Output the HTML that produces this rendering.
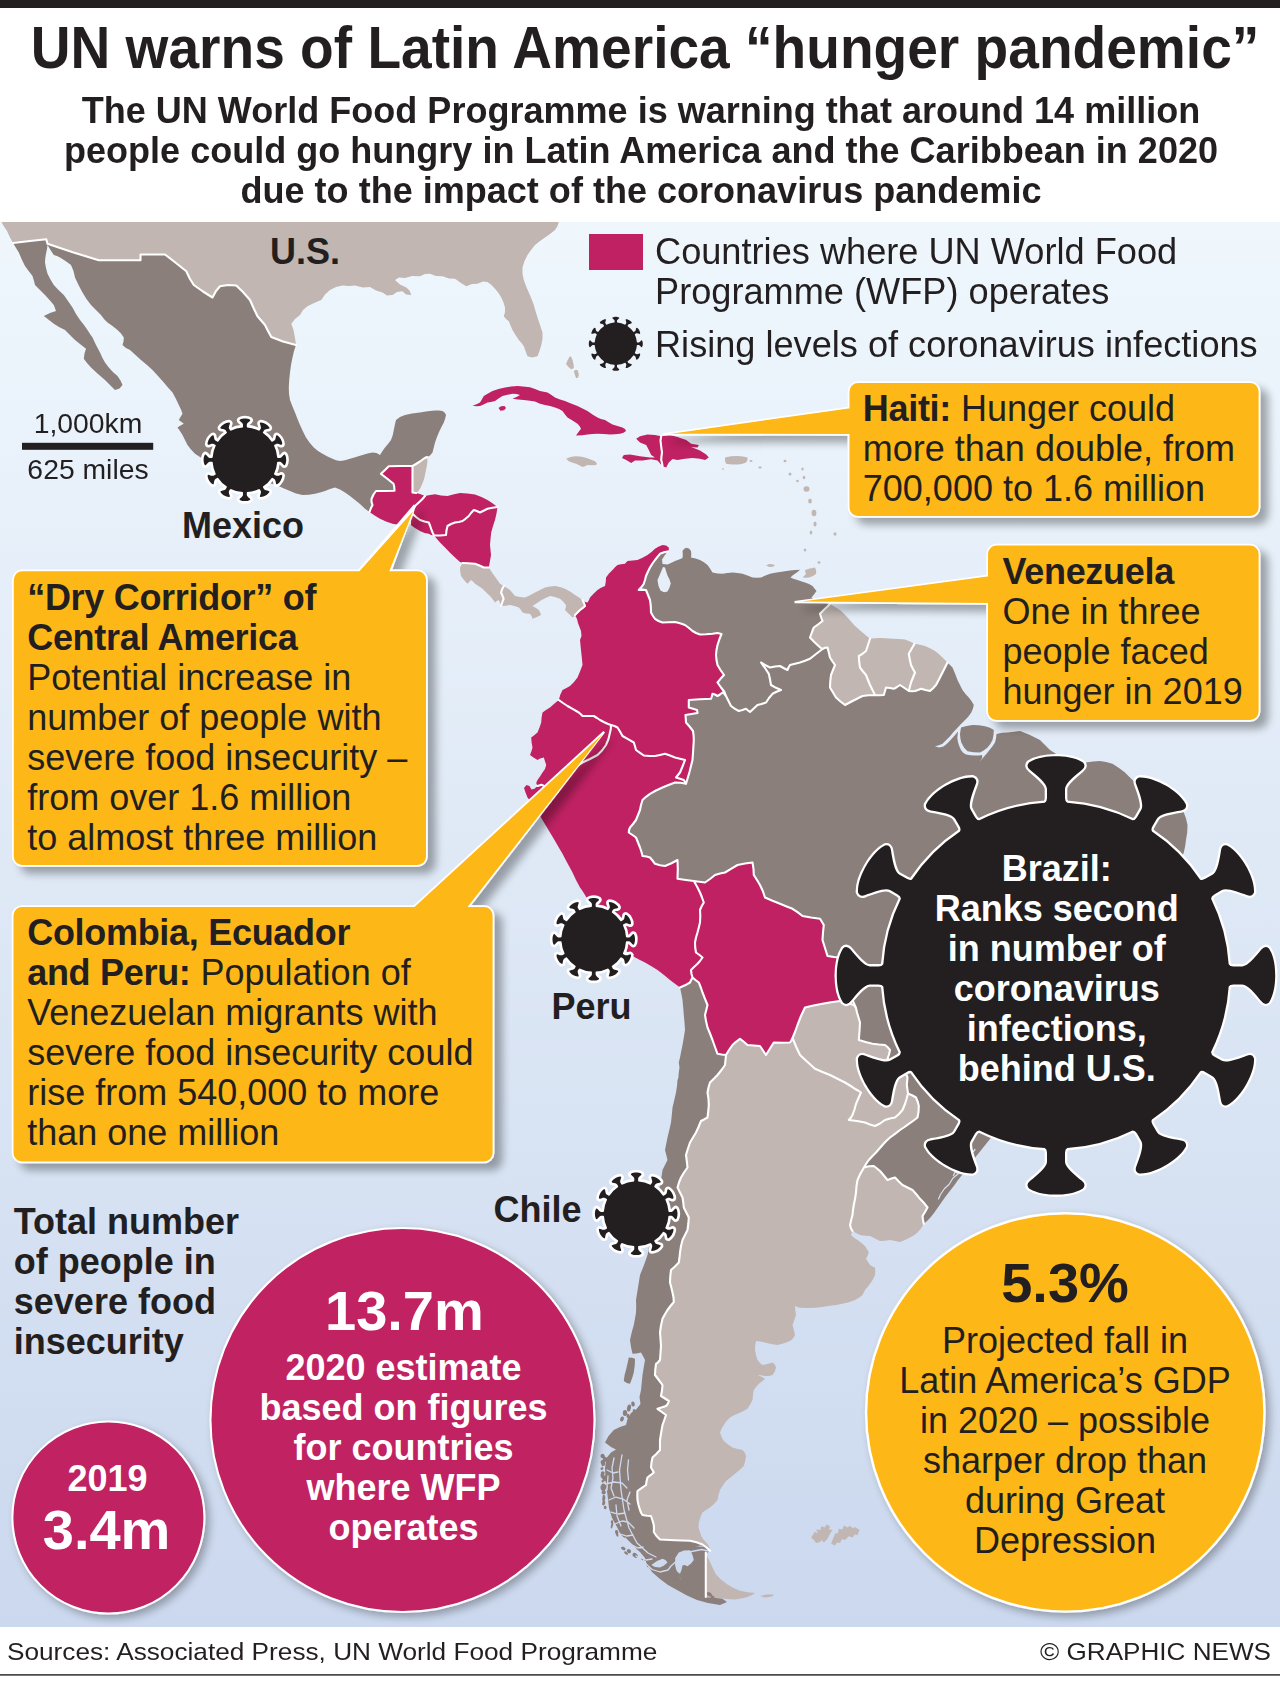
<!DOCTYPE html>
<html><head><meta charset="utf-8"><title>UN warns of Latin America hunger pandemic</title>
<style>
html,body{margin:0;padding:0;background:#fff;}
body{width:1280px;height:1682px;position:relative;overflow:hidden;font-family:"Liberation Sans",sans-serif;color:#231f20;}
b{font-weight:bold;letter-spacing:-0.3px}
</style></head><body>
<svg width="1280" height="1682" viewBox="0 0 1280 1682" style="position:absolute;left:0;top:0"><defs>
<linearGradient id="sea" x1="0" y1="0" x2="0" y2="1"><stop offset="0" stop-color="#eff7fd"/><stop offset="0.45" stop-color="#dfe9f6"/><stop offset="1" stop-color="#cbd8ee"/></linearGradient>
<filter id="sh" x="-10%" y="-10%" width="130%" height="130%"><feGaussianBlur in="SourceAlpha" stdDeviation="4"/><feOffset dx="7.5" dy="6.5"/><feComponentTransfer><feFuncA type="linear" slope="0.33"/></feComponentTransfer><feMerge><feMergeNode/><feMergeNode in="SourceGraphic"/></feMerge></filter>
<filter id="sh2" x="-10%" y="-10%" width="125%" height="125%"><feGaussianBlur in="SourceAlpha" stdDeviation="4"/><feOffset dx="4" dy="4"/><feComponentTransfer><feFuncA type="linear" slope="0.3"/></feComponentTransfer><feMerge><feMergeNode/><feMergeNode in="SourceGraphic"/></feMerge></filter>
<clipPath id="mapclip"><rect x="0" y="222" width="1280" height="1405"/></clipPath>
</defs><rect x="0" y="222" width="1280" height="1405" fill="url(#sea)"/><g clip-path="url(#mapclip)"><polygon points="1.5,222.0 3.0,225.0 7.0,231.0 10.0,237.5 13.0,243.0 30.0,241.0 46.3,239.3 47.5,243.8 72.0,252.0 98.8,260.3 140.5,260.3 140.5,254.5 165.0,254.5 176.0,263.0 186.3,271.3 190.0,279.0 193.8,285.0 203.0,291.5 212.5,297.5 216.0,291.0 220.0,286.3 228.0,285.0 236.3,285.5 243.0,292.0 250.0,300.0 254.0,309.0 257.5,316.3 265.0,325.0 268.0,331.0 271.3,337.0 283.0,341.5 296.0,345.0 295.0,338.0 293.5,330.0 291.3,323.8 295.0,319.0 300.0,315.0 303.0,310.0 307.5,306.3 314.0,303.0 321.3,300.0 325.0,294.5 330.0,290.0 336.0,287.0 342.5,285.5 349.0,286.0 355.0,285.5 363.0,287.5 370.0,287.0 376.0,290.5 382.5,292.5 387.0,295.5 392.5,295.0 397.0,292.0 402.5,291.3 406.0,294.5 411.3,295.0 409.5,290.5 406.3,287.5 400.0,284.5 395.0,280.0 399.0,277.5 405.0,278.0 412.0,276.0 420.0,276.3 425.0,274.0 430.0,273.8 436.0,276.0 442.5,276.3 449.0,278.5 455.0,278.8 461.0,283.0 466.3,286.3 472.0,284.0 477.5,283.8 483.0,281.5 487.5,282.0 491.5,285.0 495.0,288.8 498.5,293.0 501.3,297.5 503.5,302.5 505.0,307.5 505.0,312.0 503.8,316.3 506.0,319.0 508.8,321.3 510.5,325.5 512.5,330.0 515.5,335.0 518.8,340.0 521.5,343.0 523.8,346.3 525.5,351.0 527.5,356.3 532.0,357.5 537.5,356.3 539.5,351.0 541.3,345.0 542.5,339.0 542.5,332.5 540.0,325.0 537.5,317.5 535.5,311.0 533.8,305.0 531.5,299.0 528.8,292.5 526.0,286.0 523.8,280.0 522.5,274.0 522.5,267.5 524.5,261.0 527.5,255.0 531.0,250.0 535.0,245.0 540.0,241.0 545.0,237.5 550.0,234.0 555.0,230.0 557.5,226.0 558.8,222.0" fill="#c1b6b1"/>
<polygon points="13.0,243.0 30.0,241.0 46.3,239.3 47.5,243.8 72.0,252.0 98.8,260.3 140.5,260.3 140.5,254.5 165.0,254.5 176.0,263.0 186.3,271.3 190.0,279.0 193.8,285.0 203.0,291.5 212.5,297.5 216.0,291.0 220.0,286.3 228.0,285.0 236.3,285.5 243.0,292.0 250.0,300.0 254.0,309.0 257.5,316.3 265.0,325.0 268.0,331.0 271.3,337.0 283.0,341.5 296.0,345.0 294.0,351.0 292.5,357.5 291.0,365.0 290.0,372.5 289.2,380.0 288.8,387.5 289.0,394.0 290.0,400.0 292.5,406.5 295.0,412.5 297.5,419.0 300.0,425.0 303.0,431.5 306.0,437.5 309.5,442.5 313.8,447.5 318.0,451.0 322.5,453.8 327.5,456.5 332.5,458.8 336.0,460.2 340.0,461.0 345.0,460.2 350.0,458.8 356.0,457.0 362.5,455.0 367.5,453.5 372.5,452.5 376.5,453.0 380.0,455.0 382.5,451.0 385.0,447.5 388.0,444.0 391.0,440.0 392.8,435.0 393.8,430.0 394.8,425.0 396.0,420.0 400.0,417.0 405.0,415.0 412.0,413.5 420.0,412.5 427.5,411.3 435.0,410.5 439.0,410.5 442.5,411.0 444.8,412.8 446.0,415.0 445.2,418.5 443.8,422.5 441.2,427.5 438.8,432.5 436.8,437.5 435.0,442.5 433.8,447.5 432.5,452.5 430.0,455.5 427.0,457.0 424.0,458.5 420.0,461.5 416.0,464.0 412.5,466.0 400.0,466.0 388.8,466.2 385.0,470.0 381.0,473.8 387.0,478.5 393.5,483.8 394.2,486.5 394.5,490.8 385.0,491.0 376.0,491.0 373.5,494.5 371.5,499.0 371.5,502.0 372.5,505.0 371.0,508.0 369.5,512.0 365.0,508.8 360.0,504.0 355.0,500.0 350.0,496.0 345.0,492.5 340.0,489.5 335.0,487.5 330.0,489.0 325.0,491.0 320.0,492.5 315.0,493.8 309.0,494.8 302.5,495.0 296.0,493.5 290.0,491.0 284.0,488.5 277.5,485.5 255.0,478.5 235.0,472.0 215.0,465.0 205.0,460.0 200.0,457.0 195.0,453.8 191.0,449.5 187.5,445.0 185.0,440.0 182.5,435.0 180.0,431.0 177.5,427.5 180.5,425.5 183.8,423.8 181.5,422.0 178.8,420.0 180.5,417.0 182.5,413.8 181.0,409.5 178.8,405.0 176.0,399.0 172.5,392.5 168.0,387.5 163.8,382.5 158.0,376.0 152.5,370.0 147.0,365.0 141.0,360.0 135.5,355.0 130.0,350.0 126.0,348.0 122.5,345.0 123.5,341.5 123.8,337.5 121.0,333.5 117.5,330.0 112.5,326.0 107.5,322.5 104.0,319.0 101.0,315.0 96.0,310.0 91.0,305.0 86.5,299.0 82.5,292.5 78.5,285.0 75.0,277.5 73.5,271.0 71.0,265.0 65.5,261.0 60.0,257.5 57.0,256.0 53.8,255.0 50.5,250.0 47.5,245.0 47.0,249.0 46.0,253.8 45.3,258.0 45.0,262.5 46.0,268.0 47.5,273.8 50.5,279.5 53.8,285.0 58.5,290.0 63.8,295.0 68.0,301.0 72.5,307.5 76.0,314.0 80.0,320.0 84.0,325.0 87.5,330.0 90.0,334.0 92.5,337.5 96.0,345.0 100.0,352.5 102.5,358.0 105.0,362.5 108.0,366.5 111.0,370.0 114.0,373.0 117.5,376.0 120.5,380.5 122.5,385.0 119.5,388.5 115.0,390.0 110.0,385.0 105.0,380.0 98.0,374.0 91.0,367.5 87.0,363.0 83.8,358.8 84.5,353.5 86.0,348.8 80.0,344.0 75.0,340.0 70.0,335.0 65.0,330.0 59.0,327.0 53.8,323.8 49.0,320.0 43.8,316.0 50.0,313.0 56.0,311.0 53.8,305.0 49.5,300.0 45.0,295.0 40.0,290.0 35.0,285.0 34.0,281.0 32.5,276.0 29.0,271.5 25.0,266.0 22.0,260.0 18.8,252.5 13.0,243.0" fill="#8b7f7b"/>
<polygon points="369.5,512.0 371.0,508.0 372.5,505.0 371.5,502.0 371.5,499.0 373.5,494.5 376.0,491.0 385.0,491.0 394.5,490.8 394.2,486.5 393.5,483.8 387.0,478.5 381.0,473.8 385.0,470.0 388.8,466.2 400.0,466.0 412.5,466.0 412.5,475.0 412.5,485.0 412.5,492.5 416.0,493.0 420.0,494.0 425.0,496.0 422.0,499.5 418.8,502.5 415.5,505.5 413.8,508.5 412.5,513.8 411.5,517.0 410.0,520.5 410.0,524.5 405.0,525.0 398.5,524.8 392.5,523.8 386.0,521.5 380.0,518.8 375.0,515.8 369.5,512.0" fill="#c02162"/>
<polygon points="412.5,466.0 416.0,464.0 420.0,461.5 424.0,458.5 427.0,457.0 427.5,460.5 427.0,465.0 426.0,470.0 425.0,475.0 423.8,480.0 422.0,484.5 420.0,488.8 418.0,491.5 416.0,493.0 412.5,492.5 412.5,485.0 412.5,475.0 412.5,466.0" fill="#c1b6b1"/>
<polygon points="410.0,524.5 410.0,520.5 411.5,517.0 412.5,513.8 416.0,517.0 420.0,520.0 424.5,521.5 428.8,522.5 430.2,526.0 431.5,530.0 432.8,533.0 434.0,535.5 431.0,535.0 428.8,533.8 424.5,533.0 420.0,531.0 415.0,528.0 410.0,524.5" fill="#c02162"/>
<polygon points="412.5,513.8 413.8,508.5 415.5,505.5 418.8,502.5 422.0,499.5 425.0,496.0 430.0,495.0 435.0,494.3 441.0,495.5 447.5,496.0 454.0,494.3 460.0,493.0 467.5,493.5 475.0,494.5 481.5,497.0 487.5,500.0 492.5,503.3 497.5,507.0 492.5,507.8 487.5,508.8 483.5,510.8 480.0,512.5 476.8,511.0 473.8,510.0 471.0,513.0 468.8,516.0 465.5,518.8 462.5,521.0 458.8,522.0 455.0,522.5 451.0,524.0 447.5,526.0 446.5,530.5 446.0,535.0 440.0,535.5 434.0,535.5 432.8,533.0 431.5,530.0 430.2,526.0 428.8,522.5 424.5,521.5 420.0,520.0 416.0,517.0 412.5,513.8" fill="#c02162"/>
<polygon points="434.0,535.5 440.0,535.5 446.0,535.0 446.5,530.5 447.5,526.0 451.0,524.0 455.0,522.5 458.8,522.0 462.5,521.0 465.5,518.8 468.8,516.0 471.0,513.0 473.8,510.0 476.8,511.0 480.0,512.5 483.5,510.8 487.5,508.8 492.5,507.8 497.5,507.0 496.5,513.5 495.0,520.0 493.0,526.0 491.2,532.5 490.5,539.0 490.0,545.0 490.5,550.0 491.0,555.0 490.0,561.0 488.8,567.5 483.8,567.5 479.5,565.5 475.0,563.8 468.0,563.2 462.5,563.0 460.0,562.0 455.0,557.5 450.0,552.8 445.0,547.5 440.0,542.5 437.0,539.0 434.0,535.5" fill="#c02162"/>
<polygon points="462.5,563.0 468.0,563.2 475.0,563.8 479.5,565.5 483.8,567.5 488.8,567.5 491.0,571.0 493.8,575.0 497.0,579.5 500.0,583.8 503.8,586.0 502.2,589.0 501.0,592.5 502.5,595.8 503.6,598.8 502.2,602.5 501.0,606.0 499.8,602.5 498.8,600.0 496.8,601.0 495.0,602.5 492.5,599.0 490.0,596.0 486.0,592.2 482.5,588.8 478.5,586.0 475.0,583.8 473.0,581.5 471.0,580.0 469.2,582.0 467.5,583.8 464.0,580.0 461.0,576.0 460.2,571.5 460.0,567.5 462.5,563.0" fill="#c1b6b1"/>
<polygon points="501.0,606.0 502.2,602.5 503.6,598.8 502.5,595.8 501.0,592.5 502.2,589.0 503.8,586.0 507.0,588.0 510.0,590.0 512.5,593.0 515.0,596.0 520.0,597.0 525.0,597.5 530.0,595.2 535.0,592.5 540.0,590.0 545.0,587.5 550.0,586.5 555.0,586.0 560.0,587.0 565.0,588.8 570.0,591.5 575.0,595.0 579.0,597.5 582.5,600.0 584.0,603.0 585.0,606.0 582.5,608.2 580.0,610.0 577.5,612.5 575.0,615.0 573.5,617.0 572.5,617.5 568.5,613.5 565.0,610.0 565.8,607.5 566.0,605.0 563.0,601.5 560.0,598.8 555.0,597.0 550.0,596.0 545.0,598.3 540.0,601.0 536.0,603.8 532.5,606.0 536.0,608.0 538.8,610.0 540.3,612.8 541.0,615.0 536.5,617.3 532.5,618.8 531.5,616.0 530.0,613.8 526.0,613.5 522.5,612.5 520.8,609.8 518.8,607.5 514.5,606.0 510.0,605.0 505.5,605.8 501.0,606.0" fill="#c1b6b1"/>
<polygon points="575.0,615.0 577.5,612.5 580.0,610.0 582.5,608.2 585.0,606.0 584.0,603.0 582.5,600.0 585.0,602.0 587.5,602.5 589.0,600.0 590.0,597.5 593.8,593.5 597.5,590.0 601.0,587.8 605.0,586.0 605.8,581.5 606.0,577.5 609.0,573.5 612.5,570.0 615.0,567.3 617.5,565.0 621.0,564.2 625.0,563.8 626.3,562.2 627.5,561.0 632.5,560.5 637.5,560.0 642.5,557.8 647.5,555.0 651.5,552.0 655.0,548.8 658.8,546.5 662.5,545.0 666.0,545.5 668.8,547.5 668.8,549.8 667.5,551.5 664.0,552.3 660.0,553.8 657.5,556.8 655.0,560.0 652.5,563.5 650.0,567.5 648.0,571.5 646.0,576.0 645.0,580.0 643.8,583.8 641.5,587.0 638.8,590.0 642.5,589.6 646.0,590.0 648.0,595.0 650.0,600.0 650.8,606.0 651.0,612.5 653.0,616.0 655.0,618.8 658.5,621.0 662.5,622.5 668.5,622.3 675.0,622.0 680.0,623.2 685.0,625.0 689.0,628.0 692.5,631.0 696.0,633.0 700.0,634.5 706.0,634.3 712.5,633.8 717.5,633.0 721.5,634.0 719.5,639.0 717.5,645.0 716.5,650.0 716.0,655.0 716.5,660.0 717.5,665.0 720.5,670.0 724.0,675.0 720.5,678.8 717.5,682.5 721.0,687.5 724.5,692.0 726.0,696.0 724.5,694.0 722.5,692.5 720.0,694.5 717.5,696.0 715.0,694.5 712.5,693.8 711.8,696.5 711.0,698.8 700.0,699.3 688.8,700.0 688.8,703.8 688.8,707.5 693.0,708.8 697.0,710.0 697.3,711.5 697.5,713.0 691.5,714.0 685.5,715.0 685.8,719.0 686.0,722.5 689.5,726.5 693.0,731.0 693.6,735.5 693.8,740.0 693.2,750.0 692.5,760.0 689.5,772.0 686.0,783.8 685.0,781.8 683.8,780.0 680.0,778.8 676.0,777.5 678.0,775.0 680.0,772.5 682.5,766.5 685.0,760.0 680.0,758.8 675.0,757.5 670.0,755.5 665.0,753.8 660.0,755.0 655.0,756.0 649.5,756.0 643.8,755.5 640.0,752.8 636.0,750.0 635.0,746.2 633.8,742.5 628.0,739.2 622.5,736.0 620.0,731.5 617.5,727.5 614.5,726.0 611.0,725.0 609.5,724.5 607.5,723.8 603.8,722.0 600.0,720.0 597.0,718.0 593.8,716.0 588.0,716.0 582.5,716.0 580.8,714.2 578.8,712.5 573.0,709.2 567.5,706.0 563.0,703.0 558.8,700.0 560.2,695.0 562.5,690.0 566.0,688.2 570.0,686.0 574.0,682.0 577.5,677.5 580.0,671.5 582.5,665.0 581.8,657.5 581.0,650.0 580.5,645.0 580.0,640.0 581.5,636.0 581.0,631.0 579.5,627.0 578.0,623.0 577.0,619.0 575.0,615.0" fill="#c02162"/>
<polygon points="726.0,696.0 724.5,692.0 721.0,687.5 717.5,682.5 720.5,678.8 724.0,675.0 720.5,670.0 717.5,665.0 716.5,660.0 716.0,655.0 716.5,650.0 717.5,645.0 719.5,639.0 721.5,634.0 717.5,633.0 712.5,633.8 706.0,634.3 700.0,634.5 696.0,633.0 692.5,631.0 689.0,628.0 685.0,625.0 680.0,623.2 675.0,622.0 668.5,622.3 662.5,622.5 658.5,621.0 655.0,618.8 653.0,616.0 651.0,612.5 650.8,606.0 650.0,600.0 648.0,595.0 646.0,590.0 642.5,589.6 638.8,590.0 641.5,587.0 643.8,583.8 645.0,580.0 646.0,576.0 648.0,571.5 650.0,567.5 652.5,563.5 655.0,560.0 657.5,556.8 660.0,553.8 664.0,552.3 667.5,551.5 665.0,555.0 662.0,559.5 662.5,564.0 667.5,564.5 671.0,563.0 675.0,561.0 679.0,559.5 682.5,558.0 682.8,554.5 682.5,551.0 684.0,549.0 686.0,547.8 689.0,548.5 691.0,551.0 691.3,554.0 691.0,557.5 695.5,558.5 700.0,560.0 704.0,562.3 707.5,565.0 710.0,568.5 712.5,572.5 717.5,573.5 722.5,573.8 727.5,573.0 732.5,572.5 737.5,573.0 742.5,573.8 747.5,575.5 752.5,577.5 757.0,577.8 761.0,577.5 765.5,575.5 770.0,573.8 775.0,572.8 780.0,572.0 785.0,571.2 790.0,570.5 795.0,570.0 800.0,569.8 797.5,572.0 795.0,573.8 792.5,575.5 790.5,577.5 794.0,579.0 797.5,580.0 801.0,581.2 805.0,582.5 809.0,584.0 812.5,586.0 814.5,588.5 816.5,591.0 814.0,594.5 811.5,597.5 815.0,600.5 822.0,602.5 830.0,603.8 827.5,606.5 825.0,608.8 822.5,611.2 820.0,613.8 821.2,617.5 822.5,621.0 818.0,624.5 813.8,627.5 811.8,632.5 810.0,637.5 813.8,641.5 817.5,645.0 820.0,647.3 822.5,649.0 816.0,654.0 810.0,658.8 805.0,660.8 800.0,662.5 795.0,663.8 790.0,665.0 788.5,667.5 787.5,670.0 783.5,668.0 780.0,666.0 775.0,666.5 770.0,667.5 765.5,665.2 761.0,662.5 765.0,668.0 768.8,673.8 770.0,679.5 771.0,685.0 776.0,687.8 781.0,690.0 776.5,691.8 772.5,693.8 769.0,698.0 766.0,702.5 761.5,704.0 757.5,705.0 753.5,708.8 750.0,712.0 748.0,710.5 746.0,708.8 742.5,710.0 738.8,711.0 735.0,708.8 731.0,706.0 728.5,701.0 726.0,696.0" fill="#8b7f7b"/>
<polygon points="822.5,649.0 820.0,647.3 817.5,645.0 813.8,641.5 810.0,637.5 811.8,632.5 813.8,627.5 818.0,624.5 822.5,621.0 821.2,617.5 820.0,613.8 822.5,611.2 825.0,608.8 827.5,606.5 830.0,603.8 835.0,607.0 840.0,610.0 844.0,613.8 847.5,617.5 851.5,622.0 855.0,626.0 859.0,629.5 862.5,632.5 866.0,635.5 870.0,638.8 868.0,645.0 866.0,651.0 862.5,653.8 858.8,656.0 859.2,662.0 860.0,667.5 863.0,671.5 866.0,675.0 868.0,680.0 870.0,685.0 872.5,690.0 875.0,695.0 868.5,695.2 862.5,696.0 857.5,698.5 852.5,701.0 848.8,703.0 845.0,705.0 840.5,701.5 836.0,697.5 833.0,692.5 830.0,687.5 830.3,681.0 831.0,675.0 833.0,670.0 835.0,665.0 832.5,661.5 830.0,657.5 828.8,652.5 827.5,647.5 825.0,647.8 822.5,649.0" fill="#c1b6b1"/>
<polygon points="875.0,695.0 872.5,690.0 870.0,685.0 868.0,680.0 866.0,675.0 863.0,671.5 860.0,667.5 859.2,662.0 858.8,656.0 862.5,653.8 866.0,651.0 868.0,645.0 870.0,638.8 875.0,638.2 880.0,638.0 886.0,638.3 892.5,638.8 899.0,639.0 905.0,639.5 910.0,641.5 914.5,643.8 911.5,649.0 908.8,653.8 909.8,659.5 911.0,665.0 913.0,669.0 915.0,672.5 913.0,677.5 911.0,682.5 909.8,687.0 908.8,691.0 904.5,688.0 900.0,685.0 897.0,687.0 893.8,688.8 890.0,688.0 886.0,687.5 885.0,691.0 883.8,695.0 879.5,695.2 875.0,695.0" fill="#c1b6b1"/>
<polygon points="908.8,691.0 909.8,687.0 911.0,682.5 913.0,677.5 915.0,672.5 913.0,669.0 911.0,665.0 909.8,659.5 908.8,653.8 911.5,649.0 914.5,643.8 920.0,644.8 925.0,646.0 930.0,648.3 935.0,651.0 939.0,654.2 942.5,657.5 945.0,660.0 947.5,662.5 945.0,667.5 942.5,672.5 939.2,679.0 936.0,685.0 933.0,688.2 930.0,691.0 925.5,690.0 921.0,688.8 918.0,690.0 915.0,691.0 912.0,691.2 908.8,691.0" fill="#c1b6b1"/>
<polygon points="558.8,700.0 563.0,703.0 567.5,706.0 573.0,709.2 578.8,712.5 580.8,714.2 582.5,716.0 588.0,716.0 593.8,716.0 597.0,718.0 600.0,720.0 603.8,722.0 607.5,723.8 609.5,724.5 611.0,725.0 610.8,729.0 610.0,732.5 608.5,739.0 606.0,745.0 602.0,750.5 597.5,755.0 590.0,759.0 582.5,762.5 576.0,766.5 570.0,770.5 564.5,776.0 560.0,781.0 559.0,787.0 558.0,792.0 553.0,791.5 549.0,789.0 545.0,786.5 541.5,784.8 537.5,786.0 536.2,783.0 537.5,780.0 540.0,776.5 542.5,772.5 545.0,769.0 546.2,765.0 543.8,757.5 540.0,758.5 537.5,760.0 533.5,757.5 530.0,755.0 531.5,751.0 532.5,747.5 531.6,742.5 531.2,737.5 534.5,735.0 537.5,732.5 539.5,727.5 541.2,722.5 541.6,717.5 542.5,712.5 546.0,710.0 550.0,707.5 554.5,703.5 558.8,700.0" fill="#c02162"/>
<polygon points="537.5,786.0 541.5,784.8 545.0,786.5 549.0,789.0 553.0,791.5 558.0,792.0 559.0,787.0 560.0,781.0 564.5,776.0 570.0,770.5 576.0,766.5 582.5,762.5 590.0,759.0 597.5,755.0 602.0,750.5 606.0,745.0 608.5,739.0 610.0,732.5 610.8,729.0 611.0,725.0 614.5,726.0 617.5,727.5 620.0,731.5 622.5,736.0 628.0,739.2 633.8,742.5 635.0,746.2 636.0,750.0 640.0,752.8 643.8,755.5 649.5,756.0 655.0,756.0 660.0,755.0 665.0,753.8 670.0,755.5 675.0,757.5 680.0,758.8 685.0,760.0 682.5,766.5 680.0,772.5 678.0,775.0 676.0,777.5 680.0,778.8 683.8,780.0 685.0,781.8 686.0,783.8 680.5,782.8 675.0,782.5 668.5,785.0 662.5,787.5 656.0,790.5 650.0,793.8 646.0,796.8 642.5,800.0 641.0,805.0 640.0,810.0 638.0,815.0 636.0,820.0 633.0,824.0 630.0,827.5 629.0,830.0 628.8,832.5 632.5,835.0 636.0,837.5 638.0,842.5 640.0,847.5 641.5,852.0 642.5,856.0 646.5,856.5 650.0,857.5 652.5,860.5 655.0,863.8 660.0,865.2 665.0,866.0 671.5,863.2 677.5,860.0 677.8,869.0 677.5,878.8 686.0,880.0 693.8,881.0 697.0,886.5 700.0,892.5 702.0,897.5 703.8,902.5 701.5,906.5 700.0,910.0 700.3,916.0 700.0,922.5 698.8,927.5 697.5,932.5 696.0,937.5 695.0,942.5 695.2,947.5 696.0,952.5 699.5,955.0 702.5,957.5 700.0,961.0 697.5,963.8 694.0,967.0 691.0,970.0 691.5,974.0 692.5,977.5 691.2,980.0 690.0,982.5 685.0,985.3 680.0,987.5 675.0,983.8 670.0,980.0 664.0,975.0 657.5,970.0 651.0,966.0 645.0,962.5 638.5,959.2 632.5,956.0 623.0,948.5 615.0,940.0 607.0,930.0 600.0,920.0 592.0,907.0 585.0,895.0 582.5,891.0 580.0,887.5 576.0,880.0 572.5,872.5 569.0,866.0 566.0,860.5 562.5,853.8 558.8,847.5 554.5,840.0 550.0,832.5 545.5,825.0 541.0,817.5 536.5,810.5 532.5,804.0 529.5,800.0 527.5,797.5 525.5,792.5 524.0,788.0 526.5,785.0 529.5,786.0 531.5,789.5 534.5,788.8 537.5,786.0" fill="#c02162"/>
<polygon points="692.5,977.5 691.5,974.0 691.0,970.0 694.0,967.0 697.5,963.8 700.0,961.0 702.5,957.5 699.5,955.0 696.0,952.5 695.2,947.5 695.0,942.5 696.0,937.5 697.5,932.5 698.8,927.5 700.0,922.5 700.3,916.0 700.0,910.0 701.5,906.5 703.8,902.5 702.0,897.5 700.0,892.5 697.0,886.5 693.8,881.0 699.5,881.8 705.0,882.5 710.0,879.0 715.0,875.0 720.0,873.5 725.0,872.5 731.0,868.8 737.5,865.0 745.0,863.5 752.5,862.5 753.5,868.8 753.8,875.0 757.0,880.0 760.0,885.0 762.8,891.0 765.0,897.5 772.5,900.8 780.0,903.8 786.0,906.2 792.5,908.8 797.5,912.2 802.5,916.0 811.0,917.5 820.0,918.8 822.0,922.0 823.8,925.0 823.0,932.5 822.5,940.0 825.0,948.0 827.5,956.0 834.0,957.0 840.0,957.5 843.0,966.0 845.0,975.0 849.0,988.0 852.5,1000.0 856.0,1008.0 853.8,1005.0 847.0,1002.8 840.0,1001.0 831.0,1002.3 822.5,1003.8 813.5,1005.5 805.0,1007.5 801.0,1016.0 797.5,1025.0 795.0,1032.0 792.5,1038.0 791.0,1041.0 790.0,1042.5 782.0,1042.7 773.8,1042.5 770.0,1048.5 766.0,1055.0 763.0,1050.5 760.0,1046.0 753.5,1045.5 747.5,1045.0 743.8,1041.8 740.0,1038.8 736.0,1041.8 732.5,1045.0 729.0,1050.0 726.0,1055.0 721.5,1054.5 717.5,1053.8 715.0,1047.0 712.5,1040.0 710.0,1033.5 707.5,1027.5 706.0,1021.0 705.0,1015.0 706.3,1010.0 707.5,1005.0 705.0,998.8 702.5,992.5 700.8,987.5 698.8,982.5 695.5,980.0 692.5,977.5" fill="#c02162"/>
<polygon points="680.0,987.5 685.0,985.3 690.0,982.5 691.2,980.0 692.5,977.5 695.5,980.0 698.8,982.5 700.8,987.5 702.5,992.5 705.0,998.8 707.5,1005.0 706.3,1010.0 705.0,1015.0 706.0,1021.0 707.5,1027.5 710.0,1033.5 712.5,1040.0 715.0,1047.0 717.5,1053.8 721.5,1054.5 726.0,1055.0 725.5,1060.0 725.0,1065.0 721.5,1070.0 717.5,1075.0 713.8,1078.8 710.0,1082.5 708.5,1087.5 707.5,1092.5 708.5,1099.0 708.8,1105.0 708.3,1111.0 707.5,1117.5 704.0,1119.5 701.0,1121.0 698.5,1127.0 696.0,1132.5 693.0,1137.5 690.0,1142.5 687.8,1149.0 686.0,1155.0 686.8,1161.0 687.5,1167.5 684.0,1172.5 681.0,1177.5 679.0,1182.5 677.5,1187.5 680.0,1192.5 682.5,1197.5 683.3,1202.5 683.8,1207.5 686.3,1212.5 688.8,1217.5 688.3,1224.0 687.5,1230.0 685.0,1235.0 682.5,1240.0 681.0,1246.0 680.0,1252.5 679.5,1257.5 678.8,1262.5 675.0,1266.5 671.0,1270.0 670.3,1276.0 670.0,1282.5 671.3,1287.5 672.5,1292.5 673.5,1297.5 673.8,1302.0 670.5,1306.0 667.5,1310.0 664.8,1314.5 662.5,1318.8 661.0,1325.5 660.0,1332.5 660.5,1339.0 661.0,1346.0 660.5,1353.0 660.0,1360.0 658.0,1362.3 656.0,1363.8 655.3,1369.5 655.0,1375.0 658.8,1380.0 662.5,1385.0 662.0,1390.5 661.0,1396.0 665.0,1398.5 668.8,1401.0 667.8,1403.8 666.0,1406.0 661.5,1407.5 657.5,1408.8 661.8,1412.0 666.0,1415.0 664.3,1420.0 662.5,1425.0 661.2,1432.5 660.0,1440.0 660.0,1445.0 660.0,1450.0 656.3,1454.0 652.5,1457.5 651.5,1462.5 651.0,1467.5 652.5,1470.0 653.8,1472.5 650.5,1475.2 647.5,1477.5 646.5,1481.5 646.0,1485.0 641.5,1488.2 637.5,1491.0 637.3,1495.5 637.5,1500.0 638.5,1505.0 640.0,1510.0 641.2,1513.0 642.5,1515.0 647.0,1515.8 651.0,1516.0 652.5,1520.5 653.8,1525.0 654.0,1529.0 653.8,1532.0 656.5,1536.0 660.0,1539.5 675.0,1540.3 690.0,1540.8 696.5,1542.3 702.5,1544.5 706.5,1547.5 710.0,1550.8 705.0,1547.0 700.0,1545.5 693.0,1547.5 686.0,1550.0 680.0,1552.5 676.0,1556.0 672.0,1560.0 668.0,1559.0 664.0,1555.5 660.0,1556.5 655.0,1560.0 650.0,1562.0 645.0,1558.0 640.0,1552.0 634.0,1547.0 628.0,1541.0 621.0,1535.0 617.0,1527.0 612.0,1518.0 609.0,1508.0 607.5,1495.0 605.5,1480.0 605.0,1468.0 606.5,1458.0 611.0,1452.5 616.0,1449.5 611.0,1447.0 605.0,1442.5 608.5,1436.0 613.8,1430.0 620.0,1427.0 626.0,1425.0 627.5,1419.0 631.0,1413.0 636.5,1409.0 640.5,1404.0 639.5,1397.0 641.0,1390.0 641.8,1382.0 642.5,1375.0 643.8,1367.0 645.0,1360.0 643.0,1356.0 641.0,1352.5 636.5,1353.5 632.5,1353.8 631.0,1347.0 630.0,1340.0 631.8,1332.0 633.8,1325.0 635.0,1318.5 636.0,1312.5 636.2,1306.0 636.0,1300.0 638.0,1287.5 640.0,1275.0 642.0,1270.0 644.0,1265.0 645.8,1260.0 647.5,1255.0 652.0,1230.0 656.0,1205.0 661.0,1180.0 661.8,1175.0 662.5,1170.0 665.0,1165.0 667.5,1160.0 666.3,1155.0 665.0,1150.0 666.3,1143.5 667.5,1137.5 669.3,1130.0 671.0,1122.5 671.8,1115.0 672.5,1107.5 674.3,1100.0 676.0,1092.5 677.0,1086.0 677.5,1080.0 678.3,1078.0 678.8,1072.5 679.5,1067.5 678.8,1062.5 680.0,1057.5 681.3,1051.0 682.5,1045.0 683.8,1037.5 685.0,1030.0 684.5,1022.5 683.8,1015.0 683.2,1007.5 682.5,1000.0 681.3,993.5 680.0,987.5" fill="#8b7f7b"/>
<polygon points="792.5,1038.0 795.0,1032.0 797.5,1025.0 801.0,1016.0 805.0,1007.5 813.5,1005.5 822.5,1003.8 831.0,1002.3 840.0,1001.0 847.0,1002.8 853.8,1005.0 856.0,1008.0 857.0,1012.5 858.5,1017.5 860.0,1022.5 859.5,1031.0 858.8,1040.0 865.5,1042.0 872.5,1043.8 879.0,1044.5 885.0,1045.0 887.8,1047.3 890.0,1050.0 889.0,1054.5 887.5,1058.8 891.0,1062.0 895.0,1065.0 900.0,1068.5 905.0,1072.0 906.5,1074.8 907.5,1077.5 906.8,1085.0 908.0,1093.5 906.5,1099.0 905.0,1104.0 902.5,1110.0 899.0,1114.0 895.0,1117.5 890.0,1118.5 885.0,1120.0 880.0,1123.5 875.0,1126.0 870.0,1124.5 865.0,1122.5 857.0,1121.0 848.8,1120.0 851.0,1117.5 852.5,1115.0 854.5,1109.5 856.0,1103.8 858.5,1098.0 861.0,1092.5 858.0,1090.5 855.0,1088.8 850.0,1085.5 845.0,1082.5 837.5,1078.8 830.0,1075.0 822.5,1072.0 815.0,1068.8 807.5,1062.0 800.0,1055.0 796.0,1046.5 792.5,1038.0" fill="#c1b6b1"/>
<polygon points="726.0,1055.0 729.0,1050.0 732.5,1045.0 736.0,1041.8 740.0,1038.8 743.8,1041.8 747.5,1045.0 753.5,1045.5 760.0,1046.0 763.0,1050.5 766.0,1055.0 770.0,1048.5 773.8,1042.5 782.0,1042.7 790.0,1042.5 791.0,1041.0 792.5,1038.0 796.0,1046.5 800.0,1055.0 807.5,1062.0 815.0,1068.8 822.5,1072.0 830.0,1075.0 837.5,1078.8 845.0,1082.5 850.0,1085.5 855.0,1088.8 858.0,1090.5 861.0,1092.5 858.5,1098.0 856.0,1103.8 854.5,1109.5 852.5,1115.0 851.0,1117.5 848.8,1120.0 857.0,1121.0 865.0,1122.5 870.0,1124.5 875.0,1126.0 880.0,1123.5 885.0,1120.0 890.0,1118.5 895.0,1117.5 899.0,1114.0 902.5,1110.0 905.0,1104.0 906.5,1099.0 908.0,1093.5 912.5,1095.5 916.0,1097.5 917.8,1102.0 918.8,1106.0 918.5,1112.0 917.5,1117.5 913.0,1121.0 908.8,1123.8 904.5,1127.0 900.0,1130.0 895.0,1133.8 890.0,1137.5 886.0,1141.3 882.5,1145.0 879.0,1149.0 876.0,1152.5 872.5,1156.0 868.8,1160.0 866.0,1164.0 864.0,1167.5 860.5,1173.5 857.5,1180.0 856.5,1186.0 856.0,1192.5 855.0,1199.0 853.8,1205.0 853.0,1210.0 852.5,1215.0 851.2,1220.0 850.0,1225.0 851.0,1228.5 852.5,1231.0 851.0,1235.0 854.0,1237.8 857.5,1240.0 861.5,1243.0 865.0,1246.0 867.2,1249.5 868.8,1252.5 867.6,1255.8 866.0,1258.8 868.0,1262.0 870.0,1265.0 872.5,1266.5 875.0,1267.5 875.3,1271.5 875.0,1275.0 873.2,1279.0 871.0,1282.5 868.0,1286.5 865.0,1290.0 863.8,1292.5 862.5,1295.0 859.0,1297.8 855.0,1300.0 849.0,1302.2 842.5,1303.8 836.0,1305.0 830.0,1305.7 822.0,1307.0 815.0,1307.7 808.0,1308.0 800.0,1307.8 797.5,1307.0 795.0,1306.0 795.3,1310.5 796.0,1315.0 794.3,1320.0 792.5,1325.0 793.8,1330.0 795.0,1335.0 793.0,1338.5 790.0,1341.0 784.0,1343.3 777.5,1345.0 771.0,1344.0 765.0,1342.5 760.0,1341.5 756.0,1341.0 755.2,1345.5 755.0,1350.0 756.0,1355.0 757.5,1360.0 760.0,1363.0 762.5,1365.0 767.5,1364.0 772.5,1362.5 774.8,1364.5 776.0,1367.5 774.8,1371.5 772.5,1375.0 769.0,1376.0 765.0,1376.0 761.0,1375.3 757.5,1375.0 761.5,1376.8 765.0,1378.8 762.0,1381.5 758.8,1383.8 756.0,1387.0 753.8,1390.0 753.0,1395.0 752.5,1400.0 750.2,1404.5 747.5,1408.8 742.5,1411.5 737.5,1413.8 733.5,1415.5 730.0,1417.5 726.5,1421.0 723.8,1425.0 721.5,1428.8 720.0,1432.5 721.5,1437.0 723.8,1441.0 728.0,1444.5 732.5,1447.5 737.5,1449.0 742.5,1450.0 744.8,1452.8 746.0,1456.0 745.2,1461.0 743.8,1466.0 739.5,1470.0 735.0,1473.8 730.5,1477.5 726.0,1481.0 722.8,1485.5 720.0,1490.0 718.5,1495.0 717.5,1500.0 714.0,1504.0 710.0,1507.5 706.0,1510.0 702.5,1512.5 700.3,1517.5 698.8,1522.5 698.5,1527.5 700.0,1532.5 701.5,1536.5 703.8,1540.0 706.5,1543.0 708.8,1546.0 710.0,1550.8 706.5,1547.5 702.5,1544.5 696.5,1542.3 690.0,1540.8 675.0,1540.3 660.0,1539.5 656.5,1536.0 653.8,1532.0 654.0,1529.0 653.8,1525.0 652.5,1520.5 651.0,1516.0 647.0,1515.8 642.5,1515.0 641.2,1513.0 640.0,1510.0 638.5,1505.0 637.5,1500.0 637.3,1495.5 637.5,1491.0 641.5,1488.2 646.0,1485.0 646.5,1481.5 647.5,1477.5 650.5,1475.2 653.8,1472.5 652.5,1470.0 651.0,1467.5 651.5,1462.5 652.5,1457.5 656.3,1454.0 660.0,1450.0 660.0,1445.0 660.0,1440.0 661.2,1432.5 662.5,1425.0 664.3,1420.0 666.0,1415.0 661.8,1412.0 657.5,1408.8 661.5,1407.5 666.0,1406.0 667.8,1403.8 668.8,1401.0 665.0,1398.5 661.0,1396.0 662.0,1390.5 662.5,1385.0 658.8,1380.0 655.0,1375.0 655.3,1369.5 656.0,1363.8 658.0,1362.3 660.0,1360.0 660.5,1353.0 661.0,1346.0 660.5,1339.0 660.0,1332.5 661.0,1325.5 662.5,1318.8 664.8,1314.5 667.5,1310.0 670.5,1306.0 673.8,1302.0 673.5,1297.5 672.5,1292.5 671.3,1287.5 670.0,1282.5 670.3,1276.0 671.0,1270.0 675.0,1266.5 678.8,1262.5 679.5,1257.5 680.0,1252.5 681.0,1246.0 682.5,1240.0 685.0,1235.0 687.5,1230.0 688.3,1224.0 688.8,1217.5 686.3,1212.5 683.8,1207.5 683.3,1202.5 682.5,1197.5 680.0,1192.5 677.5,1187.5 679.0,1182.5 681.0,1177.5 684.0,1172.5 687.5,1167.5 686.8,1161.0 686.0,1155.0 687.8,1149.0 690.0,1142.5 693.0,1137.5 696.0,1132.5 698.5,1127.0 701.0,1121.0 704.0,1119.5 707.5,1117.5 708.3,1111.0 708.8,1105.0 708.5,1099.0 707.5,1092.5 708.5,1087.5 710.0,1082.5 713.8,1078.8 717.5,1075.0 721.5,1070.0 725.0,1065.0 725.5,1060.0 726.0,1055.0" fill="#c1b6b1"/>
<polygon points="852.5,1231.0 851.0,1228.5 850.0,1225.0 851.2,1220.0 852.5,1215.0 853.0,1210.0 853.8,1205.0 855.0,1199.0 856.0,1192.5 856.5,1186.0 857.5,1180.0 860.5,1173.5 864.0,1167.5 869.0,1166.3 873.8,1166.0 877.0,1168.5 880.0,1171.0 883.8,1175.5 887.5,1180.0 891.5,1178.5 895.0,1177.5 898.8,1181.5 902.5,1185.0 907.5,1187.5 912.5,1190.0 916.5,1194.5 920.0,1198.8 924.0,1203.0 927.5,1207.5 925.0,1212.0 922.5,1216.0 923.0,1220.0 923.8,1223.8 921.0,1228.5 917.5,1232.5 914.0,1235.2 910.0,1237.5 905.0,1240.0 900.0,1242.0 895.0,1241.0 890.0,1240.0 885.0,1240.8 880.0,1241.0 875.0,1238.5 870.0,1236.0 865.0,1235.8 860.0,1235.0 856.0,1233.0 852.5,1231.0" fill="#c1b6b1"/>
<polygon points="947.5,662.5 950.0,665.0 952.5,667.5 955.0,673.5 957.5,680.0 960.0,685.0 962.5,690.0 965.5,694.0 968.8,697.5 971.5,701.0 973.8,705.0 972.8,709.0 971.0,713.0 968.0,717.0 964.5,720.5 961.0,724.0 957.5,727.8 953.5,732.0 950.0,736.3 946.0,740.3 942.5,743.8 939.0,745.3 935.0,746.3 939.0,747.6 943.5,746.6 947.5,743.2 951.5,739.0 955.5,734.5 958.0,731.5 957.3,738.0 958.0,742.0 959.3,746.3 961.0,750.0 963.2,752.8 966.0,754.5 970.5,755.2 975.0,755.5 978.8,755.5 982.0,755.0 982.3,757.5 981.2,759.5 980.0,761.0 982.3,758.8 984.5,756.0 987.0,753.2 989.5,750.0 992.5,746.3 995.0,742.5 996.0,738.5 996.5,734.0 1002.0,732.8 1007.5,732.5 1014.0,731.7 1020.0,731.0 1030.0,735.0 1040.0,740.0 1045.0,745.0 1050.0,750.0 1057.0,754.5 1065.0,758.0 1075.0,760.5 1086.0,762.5 1093.0,761.5 1100.0,761.0 1106.0,762.0 1112.5,763.8 1119.0,768.0 1125.0,772.5 1130.0,777.5 1135.0,782.5 1147.0,788.5 1160.0,795.0 1172.0,803.0 1183.8,812.5 1186.0,818.5 1187.5,825.0 1187.2,832.5 1186.0,840.0 1185.2,846.0 1183.8,852.5 1180.0,861.0 1175.0,870.0 1170.0,885.0 1165.0,900.0 1162.0,920.0 1160.0,940.0 1155.0,960.0 1150.0,980.0 1140.0,1000.0 1130.0,1020.0 1115.0,1040.0 1100.0,1060.0 1080.0,1075.0 1060.0,1090.0 1040.0,1100.0 1020.0,1110.0 1010.0,1120.0 1000.0,1130.0 994.0,1134.5 990.0,1139.0 986.0,1144.0 982.0,1149.0 978.0,1154.0 974.0,1159.0 970.0,1164.5 966.0,1170.0 962.0,1175.0 958.0,1180.0 954.5,1185.0 951.0,1189.5 947.5,1194.0 944.5,1198.0 941.0,1203.0 937.5,1208.0 934.0,1213.0 930.0,1218.0 926.5,1221.5 923.8,1223.8 923.0,1220.0 922.5,1216.0 925.0,1212.0 927.5,1207.5 924.0,1203.0 920.0,1198.8 916.5,1194.5 912.5,1190.0 907.5,1187.5 902.5,1185.0 898.8,1181.5 895.0,1177.5 891.5,1178.5 887.5,1180.0 883.8,1175.5 880.0,1171.0 877.0,1168.5 873.8,1166.0 869.0,1166.3 864.0,1167.5 866.0,1164.0 868.8,1160.0 872.5,1156.0 876.0,1152.5 879.0,1149.0 882.5,1145.0 886.0,1141.3 890.0,1137.5 895.0,1133.8 900.0,1130.0 904.5,1127.0 908.8,1123.8 913.0,1121.0 917.5,1117.5 918.5,1112.0 918.8,1106.0 917.8,1102.0 916.0,1097.5 912.5,1095.5 908.0,1093.5 906.8,1085.0 907.5,1077.5 906.5,1074.8 905.0,1072.0 900.0,1068.5 895.0,1065.0 891.0,1062.0 887.5,1058.8 889.0,1054.5 890.0,1050.0 887.8,1047.3 885.0,1045.0 879.0,1044.5 872.5,1043.8 865.5,1042.0 858.8,1040.0 859.5,1031.0 860.0,1022.5 858.5,1017.5 857.0,1012.5 856.0,1008.0 852.5,1000.0 849.0,988.0 845.0,975.0 843.0,966.0 840.0,957.5 834.0,957.0 827.5,956.0 825.0,948.0 822.5,940.0 823.0,932.5 823.8,925.0 822.0,922.0 820.0,918.8 811.0,917.5 802.5,916.0 797.5,912.2 792.5,908.8 786.0,906.2 780.0,903.8 772.5,900.8 765.0,897.5 762.8,891.0 760.0,885.0 757.0,880.0 753.8,875.0 753.5,868.8 752.5,862.5 745.0,863.5 737.5,865.0 731.0,868.8 725.0,872.5 720.0,873.5 715.0,875.0 710.0,879.0 705.0,882.5 699.5,881.8 693.8,881.0 686.0,880.0 677.5,878.8 677.8,869.0 677.5,860.0 671.5,863.2 665.0,866.0 660.0,865.2 655.0,863.8 652.5,860.5 650.0,857.5 646.5,856.5 642.5,856.0 641.5,852.0 640.0,847.5 638.0,842.5 636.0,837.5 632.5,835.0 628.8,832.5 629.0,830.0 630.0,827.5 633.0,824.0 636.0,820.0 638.0,815.0 640.0,810.0 641.0,805.0 642.5,800.0 646.0,796.8 650.0,793.8 656.0,790.5 662.5,787.5 668.5,785.0 675.0,782.5 680.5,782.8 686.0,783.8 689.5,772.0 692.5,760.0 693.2,750.0 693.8,740.0 693.6,735.5 693.0,731.0 689.5,726.5 686.0,722.5 685.8,719.0 685.5,715.0 691.5,714.0 697.5,713.0 697.3,711.5 697.0,710.0 693.0,708.8 688.8,707.5 688.8,703.8 688.8,700.0 700.0,699.3 711.0,698.8 711.8,696.5 712.5,693.8 715.0,694.5 717.5,696.0 720.0,694.5 722.5,692.5 724.5,694.0 726.0,696.0 728.5,701.0 731.0,706.0 735.0,708.8 738.8,711.0 742.5,710.0 746.0,708.8 748.0,710.5 750.0,712.0 753.5,708.8 757.5,705.0 761.5,704.0 766.0,702.5 769.0,698.0 772.5,693.8 776.5,691.8 781.0,690.0 776.0,687.8 771.0,685.0 770.0,679.5 768.8,673.8 765.0,668.0 761.0,662.5 765.5,665.2 770.0,667.5 775.0,666.5 780.0,666.0 783.5,668.0 787.5,670.0 788.5,667.5 790.0,665.0 795.0,663.8 800.0,662.5 805.0,660.8 810.0,658.8 816.0,654.0 822.5,649.0 825.0,647.8 827.5,647.5 828.8,652.5 830.0,657.5 832.5,661.5 835.0,665.0 833.0,670.0 831.0,675.0 830.3,681.0 830.0,687.5 833.0,692.5 836.0,697.5 840.5,701.5 845.0,705.0 848.8,703.0 852.5,701.0 857.5,698.5 862.5,696.0 868.5,695.2 875.0,695.0 879.5,695.2 883.8,695.0 885.0,691.0 886.0,687.5 890.0,688.0 893.8,688.8 897.0,687.0 900.0,685.0 904.5,688.0 908.8,691.0 912.0,691.2 915.0,691.0 918.0,690.0 921.0,688.8 925.5,690.0 930.0,691.0 933.0,688.2 936.0,685.0 939.2,679.0 942.5,672.5 945.0,667.5 947.5,662.5" fill="#8b7f7b"/>
<polygon points="472.5,405.5 476.0,404.5 480.0,402.5 481.5,400.0 483.8,396.0 488.0,393.5 492.5,391.0 498.5,389.0 505.0,387.5 511.0,386.5 517.5,386.0 523.0,386.5 530.0,387.3 535.0,389.0 540.0,391.0 547.5,392.5 551.5,395.0 555.0,397.5 560.0,399.5 565.0,401.0 571.0,403.5 577.5,406.0 582.5,408.5 587.5,411.0 592.5,414.5 597.5,417.5 601.0,419.0 605.0,420.0 609.0,422.5 612.5,424.5 617.5,426.0 622.5,427.5 625.0,429.0 626.0,431.0 623.5,432.8 620.0,433.8 615.0,434.3 610.0,434.5 604.0,434.0 597.5,433.8 592.5,434.0 587.5,434.5 582.0,435.2 576.0,435.5 578.5,432.0 581.0,428.8 579.5,426.0 577.5,423.8 572.5,420.5 567.5,417.5 565.0,414.5 562.5,411.0 559.0,409.0 555.0,407.5 550.0,406.0 545.0,405.0 540.0,403.8 535.0,401.5 530.0,400.8 523.8,400.0 518.0,399.5 512.5,398.8 516.5,397.0 520.0,395.0 516.5,394.0 512.5,393.8 507.5,394.8 502.5,396.0 498.5,398.5 495.0,401.0 491.0,402.0 487.5,402.5 483.5,404.5 480.0,406.0 476.0,406.2" fill="#c02162"/>
<polygon points="498.5,408.0 501.0,406.2 504.5,406.0 506.0,408.0 504.0,410.3 500.5,410.8" fill="#c02162"/>
<polygon points="566.2,458.8 570.5,457.0 575.0,456.2 580.0,456.5 585.0,457.5 590.0,459.2 595.0,461.2 596.8,463.2 596.2,465.0 591.8,465.2 587.5,465.0 585.0,466.2 582.5,467.0 579.2,465.2 576.2,463.8 572.5,462.8 568.8,461.2" fill="#c1b6b1"/>
<polygon points="725.0,457.5 731.0,456.3 737.5,456.0 743.0,456.5 747.5,457.5 747.5,460.0 746.0,462.5 742.0,464.0 737.5,464.5 731.5,464.5 726.0,463.8 725.0,460.5" fill="#c1b6b1"/>
<polygon points="566.0,364.0 568.0,359.5 570.0,356.0 571.5,357.5 572.5,360.0 573.5,364.0 573.8,367.5 572.5,369.0 571.0,369.0 568.5,367.0" fill="#c1b6b1"/>
<polygon points="573.8,371.0 575.5,370.0 577.5,370.0 578.5,373.0 578.8,376.0 577.5,378.0 576.0,378.0 574.8,374.5" fill="#c1b6b1"/>
<polygon points="805.0,570.0 810.0,568.5 815.0,567.5 816.2,570.5 816.0,574.0 812.5,576.3 809.0,577.5 805.5,577.8 802.5,577.5 804.5,575.5 806.0,574.0 805.3,572.0" fill="#c1b6b1"/>
<polygon points="766.0,565.5 769.0,564.0 772.5,564.2 775.0,565.2 773.0,566.8 769.5,567.0" fill="#c1b6b1"/>
<polygon points="961.0,727.5 966.5,726.0 972.5,725.0 979.0,725.3 985.0,726.3 990.0,727.8 993.8,730.0 993.5,735.0 992.5,740.0 990.3,744.0 987.5,747.5 984.0,750.3 980.0,752.5 973.5,752.3 967.5,751.3 964.0,747.5 961.3,742.5 960.3,738.0 960.0,733.8" fill="#8b7f7b"/>
<polygon points="628.8,1357.5 632.0,1357.8 635.0,1358.8 634.8,1365.0 633.8,1372.5 632.0,1378.5 630.0,1383.8 626.8,1383.0 623.8,1381.0 624.5,1375.5 626.0,1370.0 627.5,1363.5" fill="#8b7f7b"/>
<polygon points="812.5,1535.5 814.5,1532.0 818.0,1533.0 816.2,1529.5 820.5,1530.0 821.2,1526.2 825.0,1527.5 826.2,1524.5 830.0,1526.2 829.0,1529.5 832.5,1530.0 830.0,1533.8 827.5,1538.8 823.8,1542.5 822.0,1540.0 820.0,1542.0 816.2,1543.0 813.8,1540.0 811.2,1537.5" fill="#c1b6b1"/>
<polygon points="832.5,1540.0 835.0,1533.8 838.0,1533.0 838.8,1528.8 842.5,1529.5 843.8,1525.5 847.5,1527.5 850.0,1525.8 853.0,1528.5 855.0,1527.0 859.5,1530.0 857.5,1535.0 854.5,1534.5 852.5,1537.5 848.8,1536.2 845.0,1540.0 842.0,1539.0 840.0,1543.0 837.0,1542.5 835.0,1545.5 831.2,1543.8" fill="#c1b6b1"/>
<polygon points="705.8,1552.5 700.0,1551.5 694.0,1553.0 690.0,1556.5 691.0,1563.0 688.0,1570.0 683.0,1573.0 681.5,1580.0 678.0,1574.0 676.0,1566.0 672.0,1563.0 667.0,1566.0 660.0,1566.5 653.0,1564.0 648.0,1566.0 652.0,1572.0 660.0,1579.0 668.0,1585.0 677.0,1590.0 687.0,1595.5 697.0,1600.0 708.0,1603.0 720.0,1605.0 727.0,1602.0 722.0,1598.5 713.0,1597.8 705.8,1597.0" fill="#8b7f7b"/>
<polygon points="645.0,1556.0 655.0,1553.0 668.0,1553.0 680.0,1550.0 693.0,1546.0 706.0,1547.0 710.0,1551.0 706.0,1553.5 692.0,1556.0 692.0,1565.0 683.0,1582.0 676.0,1572.0 668.0,1568.0 655.0,1568.0 647.0,1567.0" fill="#8b7f7b"/>
<polygon points="705.8,1552.5 707.5,1557.0 710.0,1562.0 713.0,1568.5 716.0,1574.5 721.5,1580.0 727.5,1584.5 733.5,1588.0 740.0,1590.8 747.5,1592.3 755.0,1593.0 751.5,1595.3 747.5,1597.0 741.0,1598.5 735.0,1599.5 727.5,1599.0 720.0,1598.2 713.0,1597.8 705.8,1597.0" fill="#c1b6b1"/>
<polygon points="760.0,1596.0 767.0,1594.5 774.0,1594.5 772.0,1596.5 765.0,1597.5" fill="#c1b6b1"/>
<polygon points="661.2,436.2 655.0,435.0 647.5,434.5 640.0,436.2 636.2,438.8 640.0,442.5 646.2,445.0 648.8,450.0 651.2,455.0 655.0,457.5 650.0,457.5 640.0,456.2 630.0,454.5 623.8,455.0 622.0,458.0 626.2,460.0 631.2,463.0 635.0,460.5 642.5,460.5 651.2,459.2 657.5,460.5 662.5,466.2 662.0,463.0 661.2,460.0 661.5,456.2 662.0,452.5 661.5,448.8 661.0,445.0 660.5,440.5" fill="#c02162"/>
<polygon points="661.2,436.2 670.0,435.0 677.5,437.0 686.2,440.0 691.2,443.8 698.8,445.0 697.5,447.5 691.2,447.0 700.0,450.5 706.2,454.5 708.8,457.5 705.0,460.0 700.0,458.8 692.5,458.0 685.0,458.8 677.5,460.0 672.5,459.0 668.8,462.5 666.2,467.5 662.5,466.2 662.0,463.0 661.2,460.0 661.5,456.2 662.0,452.5 661.5,448.8 661.0,445.0 660.5,440.5" fill="#c02162"/>
<ellipse cx="785" cy="461" rx="1.5" ry="1.2" fill="#c1b6b1"/>
<ellipse cx="751" cy="461" rx="1.5" ry="1" fill="#c1b6b1"/>
<ellipse cx="760" cy="467.5" rx="1.8" ry="1" fill="#c1b6b1"/>
<ellipse cx="790" cy="474" rx="1.5" ry="1.5" fill="#c1b6b1"/>
<ellipse cx="802.5" cy="469" rx="1.2" ry="1.5" fill="#c1b6b1"/>
<ellipse cx="804" cy="477.5" rx="1.3" ry="1.8" fill="#c1b6b1"/>
<ellipse cx="797.5" cy="481" rx="1.3" ry="1.3" fill="#c1b6b1"/>
<ellipse cx="806.5" cy="489" rx="3" ry="2.8" fill="#c1b6b1"/>
<ellipse cx="810" cy="501" rx="1.8" ry="2.6" fill="#c1b6b1"/>
<ellipse cx="814" cy="513" rx="2.4" ry="3.2" fill="#c1b6b1"/>
<ellipse cx="815" cy="524" rx="1.6" ry="2.6" fill="#c1b6b1"/>
<ellipse cx="811" cy="532.5" rx="1.3" ry="2" fill="#c1b6b1"/>
<ellipse cx="835" cy="534" rx="1.5" ry="1.8" fill="#c1b6b1"/>
<ellipse cx="805" cy="550" rx="1.3" ry="1.5" fill="#c1b6b1"/>
<ellipse cx="819" cy="562.5" rx="1.5" ry="1.2" fill="#c1b6b1"/>
<ellipse cx="723" cy="469" rx="1" ry="0.8" fill="#c1b6b1"/>
<ellipse cx="629.0" cy="1408.0" rx="2.0" ry="3.5" fill="#8b7f7b" transform="rotate(10 629.0 1408.0)"/>
<ellipse cx="633.0" cy="1404.0" rx="1.8" ry="2.5" fill="#8b7f7b" transform="rotate(-10 633.0 1404.0)"/>
<ellipse cx="625.0" cy="1413.0" rx="2.2" ry="3.0" fill="#8b7f7b" transform="rotate(0 625.0 1413.0)"/>
<ellipse cx="622.0" cy="1419.0" rx="1.8" ry="2.6" fill="#8b7f7b" transform="rotate(20 622.0 1419.0)"/>
<ellipse cx="628.0" cy="1416.0" rx="1.5" ry="2.2" fill="#8b7f7b" transform="rotate(0 628.0 1416.0)"/>
<ellipse cx="634.0" cy="1411.0" rx="1.3" ry="2.0" fill="#8b7f7b" transform="rotate(0 634.0 1411.0)"/>
<ellipse cx="631.0" cy="1421.0" rx="1.6" ry="2.0" fill="#8b7f7b" transform="rotate(0 631.0 1421.0)"/>
<ellipse cx="603.7" cy="1492.2" rx="2.1" ry="2.2" fill="#8b7f7b" transform="rotate(0 603.7 1492.2)"/>
<ellipse cx="603.7" cy="1503.0" rx="1.5" ry="2.6" fill="#8b7f7b" transform="rotate(12 603.7 1503.0)"/>
<ellipse cx="602.9" cy="1463.5" rx="0.9" ry="3.0" fill="#8b7f7b" transform="rotate(8 602.9 1463.5)"/>
<ellipse cx="604.9" cy="1459.4" rx="2.2" ry="2.6" fill="#8b7f7b" transform="rotate(5 604.9 1459.4)"/>
<ellipse cx="602.0" cy="1468.6" rx="1.5" ry="1.3" fill="#8b7f7b" transform="rotate(-12 602.0 1468.6)"/>
<ellipse cx="602.1" cy="1475.4" rx="1.4" ry="2.2" fill="#8b7f7b" transform="rotate(14 602.1 1475.4)"/>
<ellipse cx="603.9" cy="1497.5" rx="1.5" ry="2.7" fill="#8b7f7b" transform="rotate(-2 603.9 1497.5)"/>
<ellipse cx="605.0" cy="1478.3" rx="2.2" ry="3.0" fill="#8b7f7b" transform="rotate(8 605.0 1478.3)"/>
<ellipse cx="602.7" cy="1481.2" rx="1.2" ry="1.4" fill="#8b7f7b" transform="rotate(11 602.7 1481.2)"/>
<ellipse cx="604.5" cy="1488.0" rx="1.3" ry="3.3" fill="#8b7f7b" transform="rotate(14 604.5 1488.0)"/>
<ellipse cx="602.6" cy="1456.0" rx="2.1" ry="2.2" fill="#8b7f7b" transform="rotate(19 602.6 1456.0)"/>
<ellipse cx="602.2" cy="1487.8" rx="1.7" ry="2.9" fill="#8b7f7b" transform="rotate(-9 602.2 1487.8)"/>
<ellipse cx="603.0" cy="1463.0" rx="2.1" ry="2.9" fill="#8b7f7b" transform="rotate(-15 603.0 1463.0)"/>
<ellipse cx="602.3" cy="1475.7" rx="0.9" ry="3.0" fill="#8b7f7b" transform="rotate(-13 602.3 1475.7)"/>
<ellipse cx="603.6" cy="1500.7" rx="1.1" ry="2.8" fill="#8b7f7b" transform="rotate(-15 603.6 1500.7)"/>
<ellipse cx="605.2" cy="1507.5" rx="1.4" ry="1.7" fill="#8b7f7b" transform="rotate(-9 605.2 1507.5)"/>
<ellipse cx="617.0" cy="1533.7" rx="1.2" ry="3.1" fill="#8b7f7b" transform="rotate(-12 617.0 1533.7)"/>
<ellipse cx="604.6" cy="1487.5" rx="1.7" ry="1.4" fill="#8b7f7b" transform="rotate(20 604.6 1487.5)"/>
<ellipse cx="602.8" cy="1473.1" rx="1.9" ry="1.9" fill="#8b7f7b" transform="rotate(-8 602.8 1473.1)"/>
<ellipse cx="602.3" cy="1461.9" rx="1.6" ry="1.7" fill="#8b7f7b" transform="rotate(4 602.3 1461.9)"/>
<ellipse cx="603.4" cy="1485.7" rx="2.1" ry="2.3" fill="#8b7f7b" transform="rotate(3 603.4 1485.7)"/>
<ellipse cx="612.0" cy="1525.3" rx="1.0" ry="3.2" fill="#8b7f7b" transform="rotate(13 612.0 1525.3)"/>
<ellipse cx="602.6" cy="1476.0" rx="1.8" ry="3.3" fill="#8b7f7b" transform="rotate(-12 602.6 1476.0)"/>
<ellipse cx="616.7" cy="1532.0" rx="1.6" ry="2.1" fill="#8b7f7b" transform="rotate(-16 616.7 1532.0)"/>
<ellipse cx="604.9" cy="1459.1" rx="1.1" ry="2.8" fill="#8b7f7b" transform="rotate(-10 604.9 1459.1)"/>
<ellipse cx="612.0" cy="1521.9" rx="1.2" ry="1.6" fill="#8b7f7b" transform="rotate(9 612.0 1521.9)"/>
<ellipse cx="628.9" cy="1551.2" rx="2.2" ry="1.9" fill="#8b7f7b" transform="rotate(34 628.9 1551.2)"/>
<ellipse cx="650.0" cy="1567.0" rx="1.4" ry="0.8" fill="#8b7f7b" transform="rotate(29 650.0 1567.0)"/>
<ellipse cx="666.6" cy="1569.6" rx="1.4" ry="1.3" fill="#8b7f7b" transform="rotate(34 666.6 1569.6)"/>
<ellipse cx="635.2" cy="1555.4" rx="3.0" ry="2.1" fill="#8b7f7b" transform="rotate(35 635.2 1555.4)"/>
<ellipse cx="691.1" cy="1586.0" rx="1.3" ry="0.8" fill="#8b7f7b" transform="rotate(25 691.1 1586.0)"/>
<ellipse cx="713.0" cy="1598.2" rx="3.1" ry="0.8" fill="#8b7f7b" transform="rotate(35 713.0 1598.2)"/>
<ellipse cx="670.2" cy="1576.2" rx="1.7" ry="2.1" fill="#8b7f7b" transform="rotate(26 670.2 1576.2)"/>
<ellipse cx="676.6" cy="1579.6" rx="3.0" ry="1.8" fill="#8b7f7b" transform="rotate(36 676.6 1579.6)"/>
<ellipse cx="701.3" cy="1593.7" rx="1.8" ry="1.7" fill="#8b7f7b" transform="rotate(39 701.3 1593.7)"/>
<ellipse cx="709.1" cy="1594.2" rx="2.7" ry="1.9" fill="#8b7f7b" transform="rotate(34 709.1 1594.2)"/>
<ellipse cx="684.5" cy="1581.2" rx="2.3" ry="1.6" fill="#8b7f7b" transform="rotate(26 684.5 1581.2)"/>
<ellipse cx="685.9" cy="1586.2" rx="2.9" ry="1.7" fill="#8b7f7b" transform="rotate(31 685.9 1586.2)"/>
<ellipse cx="695.5" cy="1588.3" rx="2.0" ry="1.9" fill="#8b7f7b" transform="rotate(26 695.5 1588.3)"/>
<ellipse cx="697.0" cy="1585.2" rx="2.3" ry="1.4" fill="#8b7f7b" transform="rotate(28 697.0 1585.2)"/>
<ellipse cx="691.8" cy="1585.8" rx="2.4" ry="2.0" fill="#8b7f7b" transform="rotate(29 691.8 1585.8)"/>
<ellipse cx="623.1" cy="1548.7" rx="2.5" ry="1.1" fill="#8b7f7b" transform="rotate(28 623.1 1548.7)"/>
<ellipse cx="712.6" cy="1597.7" rx="2.0" ry="2.0" fill="#8b7f7b" transform="rotate(30 712.6 1597.7)"/>
<ellipse cx="688.6" cy="1582.0" rx="1.9" ry="1.8" fill="#8b7f7b" transform="rotate(39 688.6 1582.0)"/>
<ellipse cx="710.0" cy="1594.5" rx="2.3" ry="1.2" fill="#8b7f7b" transform="rotate(27 710.0 1594.5)"/>
<ellipse cx="671.6" cy="1577.7" rx="2.9" ry="1.7" fill="#8b7f7b" transform="rotate(39 671.6 1577.7)"/>
<ellipse cx="649.7" cy="1561.6" rx="2.0" ry="1.2" fill="#8b7f7b" transform="rotate(28 649.7 1561.6)"/>
<ellipse cx="663.4" cy="1571.9" rx="2.1" ry="1.2" fill="#8b7f7b" transform="rotate(38 663.4 1571.9)"/>
<ellipse cx="720.2" cy="1600.2" rx="1.2" ry="0.8" fill="#8b7f7b" transform="rotate(38 720.2 1600.2)"/>
<ellipse cx="626.1" cy="1553.1" rx="2.3" ry="1.2" fill="#8b7f7b" transform="rotate(37 626.1 1553.1)"/>
<ellipse cx="623.9" cy="1547.9" rx="2.0" ry="0.8" fill="#8b7f7b" transform="rotate(37 623.9 1547.9)"/>
<ellipse cx="645.7" cy="1559.3" rx="1.1" ry="1.6" fill="#8b7f7b" transform="rotate(32 645.7 1559.3)"/>
<ellipse cx="685.0" cy="1583.3" rx="2.8" ry="2.0" fill="#8b7f7b" transform="rotate(35 685.0 1583.3)"/>
<ellipse cx="641.9" cy="1559.7" rx="1.4" ry="0.8" fill="#8b7f7b" transform="rotate(32 641.9 1559.7)"/>
<ellipse cx="693.4" cy="1584.4" rx="1.6" ry="1.2" fill="#8b7f7b" transform="rotate(35 693.4 1584.4)"/>
<ellipse cx="674.0" cy="1577.4" rx="2.7" ry="1.3" fill="#8b7f7b" transform="rotate(37 674.0 1577.4)"/>
<polygon points="678.8,1552.5 684.0,1550.5 690.0,1550.3 692.5,1555.0 693.8,1560.0 691.0,1563.5 687.5,1566.3 684.5,1565.0 682.5,1565.5 681.5,1570.0 680.0,1573.8 677.5,1572.0 676.3,1570.0 675.0,1565.0 675.2,1558.0" fill="#cdd9ef"/>
<polygon points="651.3,1565.0 657.0,1561.0 662.5,1558.8 665.5,1560.0 667.5,1562.5 664.0,1565.5 660.0,1567.5 655.0,1567.0" fill="#cdd9ef"/>
<polygon points="663.0,567.0 660.5,573.0 657.5,580.0 658.5,586.0 660.5,590.5 664.0,592.3 667.5,591.5 669.5,587.5 670.8,583.5 669.5,579.5 667.5,575.5 666.0,571.0 665.0,567.5" fill="#e6eff9"/>
<path d="M975.0,1149.5 L970.5,1155.0 L967.5,1161.0 L962.0,1166.5 L958.5,1173.5 L953.0,1178.0 L949.0,1184.5 L944.5,1188.5 L940.5,1194.5 L938.5,1199.0" fill="none" stroke="#d7e2f3" stroke-width="1.2" stroke-linecap="round" stroke-linejoin="round"/>
<path d="M958.5,1173.5 L955.0,1172.0 L953.5,1175.5" fill="none" stroke="#d7e2f3" stroke-width="1.2" stroke-linecap="round" stroke-linejoin="round"/>
<path d="M625.0,1538.0 L630.0,1543.0 L636.0,1549.0" fill="none" stroke="#cddaef" stroke-width="1.2" stroke-linecap="round" stroke-linejoin="round"/>
<path d="M607.0,1470.0 L613.0,1473.0 L618.0,1472.0M606.0,1484.0 L614.0,1482.0 L622.0,1483.0 L627.0,1488.0M609.0,1500.0 L616.0,1497.0 L623.0,1499.0 L630.0,1504.0M611.0,1512.0 L618.0,1514.0 L625.0,1513.0M615.0,1524.0 L622.0,1521.0 L628.0,1522.0 L634.0,1528.0M620.0,1534.0 L627.0,1536.0 L633.0,1535.0M622.0,1455.0 L619.5,1470.0 L621.0,1490.0 L624.0,1510.0 L629.0,1528.0 L637.0,1543.0 L648.0,1553.0 L656.0,1557.0M628.5,1460.0 L627.5,1470.0 L628.5,1480.0M614.0,1458.0 L612.0,1468.0 L613.0,1478.0 L611.0,1488.0 L614.0,1496.0M632.0,1545.0 L638.0,1548.0 L643.0,1547.0M616.0,1505.0 L617.0,1516.0 L621.0,1526.0M630.0,1492.0 L627.0,1500.0 L629.0,1510.0M608.0,1476.0 L607.0,1490.0M640.0,1556.0 L646.0,1560.0 L652.0,1559.0M675.5,1562.0 L671.0,1566.0 L668.0,1570.0 L660.0,1572.0 L652.0,1569.5 L645.0,1563.0 L636.0,1556.0M710.0,1551.3 L702.0,1549.5 L694.0,1551.0 L690.0,1552.0" fill="none" stroke="#cedaef" stroke-width="1.3" stroke-linecap="round" stroke-linejoin="round"/>
<path d="M13.0,243.0 L30.0,241.0 L46.3,239.3 L47.5,243.8 L72.0,252.0 L98.8,260.3 L140.5,260.3 L140.5,254.5 L165.0,254.5 L176.0,263.0 L186.3,271.3 L190.0,279.0 L193.8,285.0 L203.0,291.5 L212.5,297.5 L216.0,291.0 L220.0,286.3 L228.0,285.0 L236.3,285.5 L243.0,292.0 L250.0,300.0 L254.0,309.0 L257.5,316.3 L265.0,325.0 L268.0,331.0 L271.3,337.0 L283.0,341.5 L296.0,345.0M369.5,512.0 L371.0,508.0 L372.5,505.0 L371.5,502.0 L371.5,499.0 L373.5,494.5 L376.0,491.0 L385.0,491.0 L394.5,490.8 L394.2,486.5 L393.5,483.8 L387.0,478.5 L381.0,473.8 L385.0,470.0 L388.8,466.2 L400.0,466.0 L412.5,466.0M427.0,457.0 L424.0,458.5 L420.0,461.5 L416.0,464.0 L412.5,466.0M412.5,466.0 L412.5,475.0 L412.5,485.0 L412.5,492.5 L416.0,493.0M425.0,496.0 L422.0,499.5 L418.8,502.5 L415.5,505.5 L413.8,508.5 L412.5,513.8M412.5,513.8 L411.5,517.0 L410.0,520.5 L410.0,524.5M412.5,513.8 L416.0,517.0 L420.0,520.0 L424.5,521.5 L428.8,522.5 L430.2,526.0 L431.5,530.0 L432.8,533.0 L434.0,535.5M497.5,507.0 L492.5,507.8 L487.5,508.8 L483.5,510.8 L480.0,512.5 L476.8,511.0 L473.8,510.0 L471.0,513.0 L468.8,516.0 L465.5,518.8 L462.5,521.0 L458.8,522.0 L455.0,522.5 L451.0,524.0 L447.5,526.0 L446.5,530.5 L446.0,535.0 L440.0,535.5 L434.0,535.5M462.5,563.0 L468.0,563.2 L475.0,563.8 L479.5,565.5 L483.8,567.5 L488.8,567.5M503.8,586.0 L502.2,589.0 L501.0,592.5 L502.5,595.8 L503.6,598.8 L502.2,602.5 L501.0,606.0M582.5,600.0 L584.0,603.0 L585.0,606.0 L582.5,608.2 L580.0,610.0 L577.5,612.5 L575.0,615.0M667.5,551.5 L664.0,552.3 L660.0,553.8 L657.5,556.8 L655.0,560.0 L652.5,563.5 L650.0,567.5 L648.0,571.5 L646.0,576.0 L645.0,580.0 L643.8,583.8 L641.5,587.0 L638.8,590.0 L642.5,589.6 L646.0,590.0 L648.0,595.0 L650.0,600.0 L650.8,606.0 L651.0,612.5 L653.0,616.0 L655.0,618.8 L658.5,621.0 L662.5,622.5 L668.5,622.3 L675.0,622.0 L680.0,623.2 L685.0,625.0 L689.0,628.0 L692.5,631.0 L696.0,633.0 L700.0,634.5 L706.0,634.3 L712.5,633.8 L717.5,633.0 L721.5,634.0 L719.5,639.0 L717.5,645.0 L716.5,650.0 L716.0,655.0 L716.5,660.0 L717.5,665.0 L720.5,670.0 L724.0,675.0 L720.5,678.8 L717.5,682.5 L721.0,687.5 L724.5,692.0 L726.0,696.0M830.0,603.8 L827.5,606.5 L825.0,608.8 L822.5,611.2 L820.0,613.8 L821.2,617.5 L822.5,621.0 L818.0,624.5 L813.8,627.5 L811.8,632.5 L810.0,637.5 L813.8,641.5 L817.5,645.0 L820.0,647.3 L822.5,649.0M822.5,649.0 L816.0,654.0 L810.0,658.8 L805.0,660.8 L800.0,662.5 L795.0,663.8 L790.0,665.0 L788.5,667.5 L787.5,670.0 L783.5,668.0 L780.0,666.0 L775.0,666.5 L770.0,667.5 L765.5,665.2 L761.0,662.5 L765.0,668.0 L768.8,673.8 L770.0,679.5 L771.0,685.0 L776.0,687.8 L781.0,690.0 L776.5,691.8 L772.5,693.8 L769.0,698.0 L766.0,702.5 L761.5,704.0 L757.5,705.0 L753.5,708.8 L750.0,712.0 L748.0,710.5 L746.0,708.8 L742.5,710.0 L738.8,711.0 L735.0,708.8 L731.0,706.0 L728.5,701.0 L726.0,696.0M870.0,638.8 L868.0,645.0 L866.0,651.0 L862.5,653.8 L858.8,656.0 L859.2,662.0 L860.0,667.5 L863.0,671.5 L866.0,675.0 L868.0,680.0 L870.0,685.0 L872.5,690.0 L875.0,695.0M822.5,649.0 L825.0,647.8 L827.5,647.5 L828.8,652.5 L830.0,657.5 L832.5,661.5 L835.0,665.0 L833.0,670.0 L831.0,675.0 L830.3,681.0 L830.0,687.5 L833.0,692.5 L836.0,697.5 L840.5,701.5 L845.0,705.0 L848.8,703.0 L852.5,701.0 L857.5,698.5 L862.5,696.0 L868.5,695.2 L875.0,695.0M914.5,643.8 L911.5,649.0 L908.8,653.8 L909.8,659.5 L911.0,665.0 L913.0,669.0 L915.0,672.5 L913.0,677.5 L911.0,682.5 L909.8,687.0 L908.8,691.0M875.0,695.0 L879.5,695.2 L883.8,695.0 L885.0,691.0 L886.0,687.5 L890.0,688.0 L893.8,688.8 L897.0,687.0 L900.0,685.0 L904.5,688.0 L908.8,691.0M947.5,662.5 L945.0,667.5 L942.5,672.5 L939.2,679.0 L936.0,685.0 L933.0,688.2 L930.0,691.0 L925.5,690.0 L921.0,688.8 L918.0,690.0 L915.0,691.0 L912.0,691.2 L908.8,691.0M726.0,696.0 L724.5,694.0 L722.5,692.5 L720.0,694.5 L717.5,696.0 L715.0,694.5 L712.5,693.8 L711.8,696.5 L711.0,698.8 L700.0,699.3 L688.8,700.0 L688.8,703.8 L688.8,707.5 L693.0,708.8 L697.0,710.0 L697.3,711.5 L697.5,713.0 L691.5,714.0 L685.5,715.0 L685.8,719.0 L686.0,722.5 L689.5,726.5 L693.0,731.0 L693.6,735.5 L693.8,740.0 L693.2,750.0 L692.5,760.0 L689.5,772.0 L686.0,783.8M686.0,783.8 L685.0,781.8 L683.8,780.0 L680.0,778.8 L676.0,777.5 L678.0,775.0 L680.0,772.5 L682.5,766.5 L685.0,760.0 L680.0,758.8 L675.0,757.5 L670.0,755.5 L665.0,753.8 L660.0,755.0 L655.0,756.0 L649.5,756.0 L643.8,755.5 L640.0,752.8 L636.0,750.0 L635.0,746.2 L633.8,742.5 L628.0,739.2 L622.5,736.0 L620.0,731.5 L617.5,727.5 L614.5,726.0 L611.0,725.0M611.0,725.0 L609.5,724.5 L607.5,723.8 L603.8,722.0 L600.0,720.0 L597.0,718.0 L593.8,716.0 L588.0,716.0 L582.5,716.0 L580.8,714.2 L578.8,712.5 L573.0,709.2 L567.5,706.0 L563.0,703.0 L558.8,700.0M611.0,725.0 L610.8,729.0 L610.0,732.5 L608.5,739.0 L606.0,745.0 L602.0,750.5 L597.5,755.0 L590.0,759.0 L582.5,762.5 L576.0,766.5 L570.0,770.5 L564.5,776.0 L560.0,781.0 L559.0,787.0 L558.0,792.0 L553.0,791.5 L549.0,789.0 L545.0,786.5 L541.5,784.8 L537.5,786.0M686.0,783.8 L680.5,782.8 L675.0,782.5 L668.5,785.0 L662.5,787.5 L656.0,790.5 L650.0,793.8 L646.0,796.8 L642.5,800.0 L641.0,805.0 L640.0,810.0 L638.0,815.0 L636.0,820.0 L633.0,824.0 L630.0,827.5 L629.0,830.0 L628.8,832.5 L632.5,835.0 L636.0,837.5 L638.0,842.5 L640.0,847.5 L641.5,852.0 L642.5,856.0 L646.5,856.5 L650.0,857.5 L652.5,860.5 L655.0,863.8 L660.0,865.2 L665.0,866.0 L671.5,863.2 L677.5,860.0 L677.8,869.0 L677.5,878.8 L686.0,880.0 L693.8,881.0M693.8,881.0 L697.0,886.5 L700.0,892.5 L702.0,897.5 L703.8,902.5 L701.5,906.5 L700.0,910.0 L700.3,916.0 L700.0,922.5 L698.8,927.5 L697.5,932.5 L696.0,937.5 L695.0,942.5 L695.2,947.5 L696.0,952.5 L699.5,955.0 L702.5,957.5 L700.0,961.0 L697.5,963.8 L694.0,967.0 L691.0,970.0 L691.5,974.0 L692.5,977.5M692.5,977.5 L691.2,980.0 L690.0,982.5 L685.0,985.3 L680.0,987.5M693.8,881.0 L699.5,881.8 L705.0,882.5 L710.0,879.0 L715.0,875.0 L720.0,873.5 L725.0,872.5 L731.0,868.8 L737.5,865.0 L745.0,863.5 L752.5,862.5 L753.5,868.8 L753.8,875.0 L757.0,880.0 L760.0,885.0 L762.8,891.0 L765.0,897.5 L772.5,900.8 L780.0,903.8 L786.0,906.2 L792.5,908.8 L797.5,912.2 L802.5,916.0 L811.0,917.5 L820.0,918.8 L822.0,922.0 L823.8,925.0 L823.0,932.5 L822.5,940.0 L825.0,948.0 L827.5,956.0 L834.0,957.0 L840.0,957.5 L843.0,966.0 L845.0,975.0 L849.0,988.0 L852.5,1000.0 L856.0,1008.0M856.0,1008.0 L853.8,1005.0 L847.0,1002.8 L840.0,1001.0 L831.0,1002.3 L822.5,1003.8 L813.5,1005.5 L805.0,1007.5 L801.0,1016.0 L797.5,1025.0 L795.0,1032.0 L792.5,1038.0M792.5,1038.0 L791.0,1041.0 L790.0,1042.5 L782.0,1042.7 L773.8,1042.5 L770.0,1048.5 L766.0,1055.0 L763.0,1050.5 L760.0,1046.0 L753.5,1045.5 L747.5,1045.0 L743.8,1041.8 L740.0,1038.8 L736.0,1041.8 L732.5,1045.0 L729.0,1050.0 L726.0,1055.0M726.0,1055.0 L721.5,1054.5 L717.5,1053.8 L715.0,1047.0 L712.5,1040.0 L710.0,1033.5 L707.5,1027.5 L706.0,1021.0 L705.0,1015.0 L706.3,1010.0 L707.5,1005.0 L705.0,998.8 L702.5,992.5 L700.8,987.5 L698.8,982.5 L695.5,980.0 L692.5,977.5M856.0,1008.0 L857.0,1012.5 L858.5,1017.5 L860.0,1022.5 L859.5,1031.0 L858.8,1040.0 L865.5,1042.0 L872.5,1043.8 L879.0,1044.5 L885.0,1045.0 L887.8,1047.3 L890.0,1050.0 L889.0,1054.5 L887.5,1058.8 L891.0,1062.0 L895.0,1065.0 L900.0,1068.5 L905.0,1072.0 L906.5,1074.8 L907.5,1077.5 L906.8,1085.0 L908.0,1093.5M908.0,1093.5 L906.5,1099.0 L905.0,1104.0 L902.5,1110.0 L899.0,1114.0 L895.0,1117.5 L890.0,1118.5 L885.0,1120.0 L880.0,1123.5 L875.0,1126.0 L870.0,1124.5 L865.0,1122.5 L857.0,1121.0 L848.8,1120.0 L851.0,1117.5 L852.5,1115.0 L854.5,1109.5 L856.0,1103.8 L858.5,1098.0 L861.0,1092.5 L858.0,1090.5 L855.0,1088.8 L850.0,1085.5 L845.0,1082.5 L837.5,1078.8 L830.0,1075.0 L822.5,1072.0 L815.0,1068.8 L807.5,1062.0 L800.0,1055.0 L796.0,1046.5 L792.5,1038.0M908.0,1093.5 L912.5,1095.5 L916.0,1097.5 L917.8,1102.0 L918.8,1106.0 L918.5,1112.0 L917.5,1117.5 L913.0,1121.0 L908.8,1123.8 L904.5,1127.0 L900.0,1130.0 L895.0,1133.8 L890.0,1137.5 L886.0,1141.3 L882.5,1145.0 L879.0,1149.0 L876.0,1152.5 L872.5,1156.0 L868.8,1160.0 L866.0,1164.0 L864.0,1167.5M864.0,1167.5 L860.5,1173.5 L857.5,1180.0 L856.5,1186.0 L856.0,1192.5 L855.0,1199.0 L853.8,1205.0 L853.0,1210.0 L852.5,1215.0 L851.2,1220.0 L850.0,1225.0 L851.0,1228.5 L852.5,1231.0M864.0,1167.5 L869.0,1166.3 L873.8,1166.0 L877.0,1168.5 L880.0,1171.0 L883.8,1175.5 L887.5,1180.0 L891.5,1178.5 L895.0,1177.5 L898.8,1181.5 L902.5,1185.0 L907.5,1187.5 L912.5,1190.0 L916.5,1194.5 L920.0,1198.8 L924.0,1203.0 L927.5,1207.5 L925.0,1212.0 L922.5,1216.0 L923.0,1220.0 L923.8,1223.8M726.0,1055.0 L725.5,1060.0 L725.0,1065.0 L721.5,1070.0 L717.5,1075.0 L713.8,1078.8 L710.0,1082.5 L708.5,1087.5 L707.5,1092.5 L708.5,1099.0 L708.8,1105.0 L708.3,1111.0 L707.5,1117.5 L704.0,1119.5 L701.0,1121.0 L698.5,1127.0 L696.0,1132.5 L693.0,1137.5 L690.0,1142.5 L687.8,1149.0 L686.0,1155.0 L686.8,1161.0 L687.5,1167.5 L684.0,1172.5 L681.0,1177.5 L679.0,1182.5 L677.5,1187.5 L680.0,1192.5 L682.5,1197.5 L683.3,1202.5 L683.8,1207.5 L686.3,1212.5 L688.8,1217.5 L688.3,1224.0 L687.5,1230.0 L685.0,1235.0 L682.5,1240.0 L681.0,1246.0 L680.0,1252.5 L679.5,1257.5 L678.8,1262.5 L675.0,1266.5 L671.0,1270.0 L670.3,1276.0 L670.0,1282.5 L671.3,1287.5 L672.5,1292.5 L673.5,1297.5 L673.8,1302.0 L670.5,1306.0 L667.5,1310.0 L664.8,1314.5 L662.5,1318.8 L661.0,1325.5 L660.0,1332.5 L660.5,1339.0 L661.0,1346.0 L660.5,1353.0 L660.0,1360.0 L658.0,1362.3 L656.0,1363.8 L655.3,1369.5 L655.0,1375.0 L658.8,1380.0 L662.5,1385.0 L662.0,1390.5 L661.0,1396.0 L665.0,1398.5 L668.8,1401.0 L667.8,1403.8 L666.0,1406.0 L661.5,1407.5 L657.5,1408.8 L661.8,1412.0 L666.0,1415.0 L664.3,1420.0 L662.5,1425.0 L661.2,1432.5 L660.0,1440.0 L660.0,1445.0 L660.0,1450.0 L656.3,1454.0 L652.5,1457.5 L651.5,1462.5 L651.0,1467.5 L652.5,1470.0 L653.8,1472.5 L650.5,1475.2 L647.5,1477.5 L646.5,1481.5 L646.0,1485.0 L641.5,1488.2 L637.5,1491.0 L637.3,1495.5 L637.5,1500.0 L638.5,1505.0 L640.0,1510.0 L641.2,1513.0 L642.5,1515.0 L647.0,1515.8 L651.0,1516.0 L652.5,1520.5 L653.8,1525.0 L654.0,1529.0 L653.8,1532.0 L656.5,1536.0 L660.0,1539.5 L675.0,1540.3 L690.0,1540.8 L696.5,1542.3 L702.5,1544.5 L706.5,1547.5 L710.0,1550.8M661.2,436.2 L660.5,440.5 L661.0,445.0 L661.5,448.8 L662.0,452.5 L661.5,456.2 L661.2,460.0 L662.0,463.0 L662.5,466.2M705.8,1552.5 L705.8,1597.0" fill="none" stroke="#fff" stroke-width="2.1" stroke-linejoin="round" stroke-linecap="round"/></g><rect x="589" y="234" width="54" height="36" fill="#c02162"/><path d="M614.3,322.6Q614.6,322.4 614.6,322.0L614.6,320.7C614.6,320.1 613.5,319.1 612.6,318.4Q612.0,317.9 612.5,317.5C613.5,316.8 614.8,316.7 615.8,316.7C616.8,316.7 618.1,316.8 619.1,317.5Q619.6,317.9 619.0,318.4C618.1,319.1 617.0,320.1 617.0,320.7L617.0,322.0Q617.0,322.4 617.3,322.6A21.2,21.2 0 0 1 625.1,324.7Q625.4,324.7 625.6,324.3L626.2,323.2C626.5,322.6 626.1,321.2 625.7,320.2Q625.4,319.5 626.0,319.3C627.2,319.3 628.4,319.8 629.3,320.3C630.2,320.8 631.3,321.6 631.8,322.6Q631.9,323.3 631.2,323.4C630.1,323.6 628.7,323.9 628.3,324.4L627.7,325.5Q627.5,325.9 627.7,326.2A21.2,21.2 0 0 1 633.3,331.8Q633.6,332.0 634.0,331.8L635.1,331.2C635.6,330.8 635.9,329.4 636.1,328.3Q636.2,327.6 636.9,327.7C637.9,328.2 638.7,329.3 639.2,330.2C639.7,331.1 640.2,332.3 640.2,333.5Q640.0,334.1 639.3,333.8C638.3,333.4 636.9,333.0 636.3,333.3L635.2,333.9Q634.8,334.1 634.8,334.4A21.2,21.2 0 0 1 636.9,342.2Q637.1,342.5 637.5,342.5L638.8,342.5C639.4,342.5 640.4,341.4 641.1,340.5Q641.6,339.9 642.0,340.4C642.7,341.4 642.8,342.7 642.8,343.7C642.8,344.7 642.7,346.0 642.0,347.0Q641.6,347.5 641.1,346.9C640.4,346.0 639.4,344.9 638.8,344.9L637.5,344.9Q637.1,344.9 636.9,345.2A21.2,21.2 0 0 1 634.8,353.0Q634.8,353.3 635.2,353.5L636.3,354.1C636.9,354.4 638.3,354.0 639.3,353.6Q640.0,353.3 640.2,353.9C640.2,355.1 639.7,356.3 639.2,357.2C638.7,358.1 637.9,359.2 636.9,359.7Q636.2,359.8 636.1,359.1C635.9,358.0 635.6,356.6 635.1,356.2L634.0,355.6Q633.6,355.4 633.3,355.6A21.2,21.2 0 0 1 627.7,361.2Q627.5,361.5 627.7,361.9L628.3,363.0C628.7,363.5 630.1,363.8 631.2,364.0Q631.9,364.1 631.8,364.8C631.3,365.8 630.2,366.6 629.3,367.1C628.4,367.6 627.2,368.1 626.0,368.1Q625.4,367.9 625.7,367.2C626.1,366.2 626.5,364.8 626.2,364.2L625.6,363.1Q625.4,362.7 625.1,362.7A21.2,21.2 0 0 1 617.3,364.8Q617.0,365.0 617.0,365.4L617.0,366.7C617.0,367.3 618.1,368.3 619.0,369.0Q619.6,369.5 619.1,369.9C618.1,370.6 616.8,370.7 615.8,370.7C614.8,370.7 613.5,370.6 612.5,369.9Q612.0,369.5 612.6,369.0C613.5,368.3 614.6,367.3 614.6,366.7L614.6,365.4Q614.6,365.0 614.3,364.8A21.2,21.2 0 0 1 606.5,362.7Q606.2,362.7 606.0,363.1L605.4,364.2C605.1,364.8 605.5,366.2 605.9,367.2Q606.2,367.9 605.6,368.1C604.4,368.1 603.2,367.6 602.3,367.1C601.4,366.6 600.3,365.8 599.8,364.8Q599.7,364.1 600.4,364.0C601.5,363.8 602.9,363.5 603.3,363.0L603.9,361.9Q604.1,361.5 603.9,361.2A21.2,21.2 0 0 1 598.3,355.6Q598.0,355.4 597.6,355.6L596.5,356.2C596.0,356.6 595.7,358.0 595.5,359.1Q595.4,359.8 594.7,359.7C593.7,359.2 592.9,358.1 592.4,357.2C591.9,356.3 591.4,355.1 591.4,353.9Q591.6,353.3 592.3,353.6C593.3,354.0 594.7,354.4 595.3,354.1L596.4,353.5Q596.8,353.3 596.8,353.0A21.2,21.2 0 0 1 594.7,345.2Q594.5,344.9 594.1,344.9L592.8,344.9C592.2,344.9 591.2,346.0 590.5,346.9Q590.0,347.5 589.6,347.0C588.9,346.0 588.8,344.7 588.8,343.7C588.8,342.7 588.9,341.4 589.6,340.4Q590.0,339.9 590.5,340.5C591.2,341.4 592.2,342.5 592.8,342.5L594.1,342.5Q594.5,342.5 594.7,342.2A21.2,21.2 0 0 1 596.8,334.4Q596.8,334.1 596.4,333.9L595.3,333.3C594.7,333.0 593.3,333.4 592.3,333.8Q591.6,334.1 591.4,333.5C591.4,332.3 591.9,331.1 592.4,330.2C592.9,329.3 593.7,328.2 594.7,327.7Q595.4,327.6 595.5,328.3C595.7,329.4 596.0,330.8 596.5,331.2L597.6,331.8Q598.0,332.0 598.3,331.8A21.2,21.2 0 0 1 603.9,326.2Q604.1,325.9 603.9,325.5L603.3,324.4C602.9,323.9 601.5,323.6 600.4,323.4Q599.7,323.3 599.8,322.6C600.3,321.6 601.4,320.8 602.3,320.3C603.2,319.8 604.4,319.3 605.6,319.3Q606.2,319.5 605.9,320.2C605.5,321.2 605.1,322.6 605.4,323.2L606.0,324.3Q606.2,324.7 606.5,324.7A21.2,21.2 0 0 1 614.3,322.6Z" fill="#231f20"/><rect x="22" y="442.8" width="131.2" height="7" fill="#231f20"/><path d="M242.6,427.5Q243.0,427.3 243.0,426.6L243.0,424.7C243.0,423.7 241.3,422.2 240.0,421.1Q239.2,420.4 239.8,419.7C241.3,418.7 243.4,418.5 244.9,418.5C246.4,418.5 248.5,418.7 250.0,419.7Q250.6,420.4 249.8,421.1C248.5,422.2 246.8,423.7 246.8,424.7L246.8,426.6Q246.8,427.3 247.2,427.5A32.4,32.4 0 0 1 259.1,430.7Q259.5,430.7 259.9,430.1L260.8,428.5C261.3,427.6 260.6,425.4 260.0,423.9Q259.6,422.8 260.6,422.5C262.3,422.4 264.2,423.3 265.6,424.0C266.9,424.8 268.5,426.0 269.4,427.6Q269.6,428.6 268.5,428.7C266.8,429.0 264.6,429.4 264.1,430.3L263.1,432.0Q262.8,432.6 263.0,433.0A32.4,32.4 0 0 1 271.7,441.7Q272.1,441.9 272.7,441.6L274.4,440.6C275.3,440.1 275.7,437.9 276.0,436.2Q276.1,435.1 277.1,435.3C278.7,436.2 279.9,437.8 280.7,439.1C281.4,440.5 282.3,442.4 282.2,444.1Q281.9,445.1 280.8,444.7C279.3,444.1 277.1,443.4 276.2,443.9L274.6,444.8Q274.0,445.2 274.0,445.6A32.4,32.4 0 0 1 277.2,457.5Q277.4,457.9 278.1,457.9L280.0,457.9C281.0,457.9 282.5,456.2 283.6,454.9Q284.3,454.1 285.0,454.7C286.0,456.2 286.2,458.3 286.2,459.8C286.2,461.3 286.0,463.4 285.0,464.9Q284.3,465.5 283.6,464.7C282.5,463.4 281.0,461.7 280.0,461.7L278.1,461.7Q277.4,461.7 277.2,462.1A32.4,32.4 0 0 1 274.0,474.0Q274.0,474.4 274.6,474.8L276.2,475.7C277.1,476.2 279.3,475.5 280.8,474.9Q281.9,474.5 282.2,475.5C282.3,477.2 281.4,479.1 280.7,480.4C279.9,481.8 278.7,483.4 277.1,484.3Q276.1,484.5 276.0,483.4C275.7,481.7 275.3,479.5 274.4,479.0L272.7,478.0Q272.1,477.7 271.7,477.9A32.4,32.4 0 0 1 263.0,486.6Q262.8,487.0 263.1,487.6L264.1,489.3C264.6,490.2 266.8,490.6 268.5,490.9Q269.6,491.0 269.4,492.0C268.5,493.6 266.9,494.8 265.6,495.6C264.2,496.3 262.3,497.2 260.6,497.1Q259.6,496.8 260.0,495.7C260.6,494.2 261.3,492.0 260.8,491.1L259.9,489.5Q259.5,488.9 259.1,488.9A32.4,32.4 0 0 1 247.2,492.1Q246.8,492.3 246.8,493.0L246.8,494.9C246.8,495.9 248.5,497.4 249.8,498.5Q250.6,499.2 250.0,499.9C248.5,500.9 246.4,501.1 244.9,501.1C243.4,501.1 241.3,500.9 239.8,499.9Q239.2,499.2 240.0,498.5C241.3,497.4 243.0,495.9 243.0,494.9L243.0,493.0Q243.0,492.3 242.6,492.1A32.4,32.4 0 0 1 230.7,488.9Q230.3,488.9 229.9,489.5L229.0,491.1C228.5,492.0 229.2,494.2 229.8,495.7Q230.2,496.8 229.2,497.1C227.5,497.2 225.6,496.3 224.2,495.6C222.9,494.8 221.3,493.6 220.4,492.0Q220.2,491.0 221.3,490.9C223.0,490.6 225.2,490.2 225.7,489.3L226.7,487.6Q227.0,487.0 226.8,486.6A32.4,32.4 0 0 1 218.1,477.9Q217.7,477.7 217.1,478.0L215.4,479.0C214.5,479.5 214.1,481.7 213.8,483.4Q213.7,484.5 212.7,484.3C211.1,483.4 209.9,481.8 209.1,480.5C208.4,479.1 207.5,477.2 207.6,475.5Q207.9,474.5 209.0,474.9C210.5,475.5 212.7,476.2 213.6,475.7L215.2,474.8Q215.8,474.4 215.8,474.0A32.4,32.4 0 0 1 212.6,462.1Q212.4,461.7 211.7,461.7L209.8,461.7C208.8,461.7 207.3,463.4 206.2,464.7Q205.5,465.5 204.8,464.9C203.8,463.4 203.6,461.3 203.6,459.8C203.6,458.3 203.8,456.2 204.8,454.7Q205.5,454.1 206.2,454.9C207.3,456.2 208.8,457.9 209.8,457.9L211.7,457.9Q212.4,457.9 212.6,457.5A32.4,32.4 0 0 1 215.8,445.6Q215.8,445.2 215.2,444.8L213.6,443.9C212.7,443.4 210.5,444.1 209.0,444.7Q207.9,445.1 207.6,444.1C207.5,442.4 208.4,440.5 209.1,439.1C209.9,437.8 211.1,436.2 212.7,435.3Q213.7,435.1 213.8,436.2C214.1,437.9 214.5,440.1 215.4,440.6L217.1,441.6Q217.7,441.9 218.1,441.7A32.4,32.4 0 0 1 226.8,433.0Q227.0,432.6 226.7,432.0L225.7,430.3C225.2,429.4 223.0,429.0 221.3,428.7Q220.2,428.6 220.4,427.6C221.3,426.0 222.9,424.8 224.2,424.0C225.6,423.3 227.5,422.4 229.2,422.5Q230.2,422.8 229.8,423.9C229.2,425.4 228.5,427.6 229.0,428.5L229.9,430.1Q230.3,430.7 230.7,430.7A32.4,32.4 0 0 1 242.6,427.5Z" fill="#231f20" stroke="#fff" stroke-width="5.4" stroke-linejoin="round" paint-order="stroke"/><path d="M591.5,907.0Q591.9,906.8 591.9,906.1L591.9,904.2C591.9,903.2 590.2,901.7 588.9,900.6Q588.0,899.9 588.7,899.2C590.2,898.2 592.2,898.0 593.8,898.0C595.3,898.0 597.3,898.2 598.8,899.2Q599.5,899.9 598.6,900.6C597.3,901.7 595.6,903.2 595.6,904.2L595.6,906.1Q595.6,906.8 596.0,907.0A32.4,32.4 0 0 1 607.9,910.2Q608.4,910.2 608.7,909.6L609.7,908.0C610.2,907.1 609.5,904.9 608.9,903.4Q608.5,902.3 609.4,902.0C611.2,901.9 613.1,902.8 614.4,903.5C615.7,904.3 617.4,905.5 618.2,907.1Q618.4,908.1 617.3,908.2C615.7,908.5 613.5,908.9 612.9,909.8L612.0,911.5Q611.6,912.1 611.9,912.5A32.4,32.4 0 0 1 620.6,921.2Q621.0,921.4 621.6,921.1L623.2,920.1C624.1,919.6 624.6,917.4 624.8,915.7Q625.0,914.6 626.0,914.8C627.5,915.7 628.8,917.3 629.5,918.6C630.3,920.0 631.1,921.9 631.0,923.6Q630.7,924.6 629.7,924.2C628.1,923.6 626.0,922.9 625.1,923.4L623.5,924.3Q622.9,924.7 622.9,925.1A32.4,32.4 0 0 1 626.0,937.0Q626.3,937.4 627.0,937.4L628.9,937.4C629.9,937.4 631.4,935.7 632.5,934.4Q633.1,933.6 633.9,934.2C634.8,935.7 635.0,937.8 635.0,939.3C635.0,940.8 634.8,942.9 633.9,944.4Q633.1,945.0 632.5,944.2C631.4,942.9 629.9,941.2 628.9,941.2L627.0,941.2Q626.3,941.2 626.0,941.6A32.4,32.4 0 0 1 622.9,953.5Q622.9,953.9 623.5,954.3L625.1,955.2C626.0,955.7 628.1,955.0 629.7,954.4Q630.7,954.0 631.0,955.0C631.1,956.7 630.3,958.6 629.5,959.9C628.8,961.3 627.5,962.9 626.0,963.8Q625.0,964.0 624.8,962.9C624.6,961.2 624.1,959.0 623.2,958.5L621.6,957.5Q621.0,957.2 620.6,957.4A32.4,32.4 0 0 1 611.9,966.1Q611.6,966.5 612.0,967.1L612.9,968.8C613.5,969.7 615.7,970.1 617.3,970.4Q618.4,970.5 618.2,971.5C617.4,973.1 615.7,974.3 614.4,975.1C613.1,975.8 611.2,976.7 609.4,976.6Q608.5,976.3 608.9,975.2C609.5,973.7 610.2,971.5 609.7,970.6L608.7,969.0Q608.4,968.4 607.9,968.4A32.4,32.4 0 0 1 596.0,971.6Q595.6,971.8 595.6,972.5L595.6,974.4C595.6,975.4 597.3,976.9 598.6,978.0Q599.5,978.7 598.8,979.4C597.3,980.4 595.3,980.6 593.8,980.6C592.2,980.6 590.2,980.4 588.7,979.4Q588.0,978.7 588.9,978.0C590.2,976.9 591.9,975.4 591.9,974.4L591.9,972.5Q591.9,971.8 591.5,971.6A32.4,32.4 0 0 1 579.6,968.4Q579.1,968.4 578.8,969.0L577.8,970.6C577.3,971.5 578.0,973.7 578.6,975.2Q579.0,976.3 578.1,976.6C576.3,976.7 574.4,975.8 573.1,975.1C571.8,974.3 570.1,973.1 569.3,971.5Q569.1,970.5 570.2,970.4C571.8,970.1 574.0,969.7 574.6,968.8L575.5,967.1Q575.9,966.5 575.6,966.1A32.4,32.4 0 0 1 566.9,957.4Q566.5,957.2 565.9,957.5L564.3,958.5C563.4,959.0 562.9,961.2 562.7,962.9Q562.5,964.0 561.5,963.8C560.0,962.9 558.7,961.3 558.0,959.9C557.2,958.6 556.4,956.7 556.5,955.0Q556.8,954.0 557.8,954.4C559.4,955.0 561.5,955.7 562.4,955.2L564.0,954.3Q564.6,953.9 564.6,953.5A32.4,32.4 0 0 1 561.5,941.6Q561.2,941.2 560.5,941.2L558.6,941.2C557.6,941.2 556.1,942.9 555.0,944.2Q554.4,945.0 553.6,944.4C552.7,942.9 552.5,940.8 552.5,939.3C552.5,937.8 552.7,935.7 553.6,934.2Q554.4,933.6 555.0,934.4C556.1,935.7 557.6,937.4 558.6,937.4L560.5,937.4Q561.2,937.4 561.5,937.0A32.4,32.4 0 0 1 564.6,925.1Q564.6,924.7 564.0,924.3L562.4,923.4C561.5,922.9 559.4,923.6 557.8,924.2Q556.8,924.6 556.5,923.6C556.4,921.9 557.2,920.0 558.0,918.6C558.7,917.3 560.0,915.7 561.5,914.8Q562.5,914.6 562.7,915.7C562.9,917.4 563.4,919.6 564.3,920.1L565.9,921.1Q566.5,921.4 566.9,921.2A32.4,32.4 0 0 1 575.6,912.5Q575.9,912.1 575.5,911.5L574.6,909.8C574.0,908.9 571.8,908.5 570.2,908.2Q569.1,908.1 569.3,907.1C570.1,905.5 571.8,904.3 573.1,903.5C574.4,902.8 576.3,901.9 578.1,902.0Q579.0,902.3 578.6,903.4C578.0,904.9 577.3,907.1 577.8,908.0L578.8,909.6Q579.1,910.2 579.6,910.2A32.4,32.4 0 0 1 591.5,907.0Z" fill="#231f20" stroke="#fff" stroke-width="5.4" stroke-linejoin="round" paint-order="stroke"/><path d="M633.9,1181.5Q634.3,1181.3 634.3,1180.6L634.3,1178.7C634.3,1177.7 632.6,1176.2 631.3,1175.1Q630.5,1174.4 631.1,1173.7C632.6,1172.7 634.7,1172.5 636.2,1172.5C637.7,1172.5 639.8,1172.7 641.3,1173.7Q641.9,1174.4 641.1,1175.1C639.8,1176.2 638.1,1177.7 638.1,1178.7L638.1,1180.6Q638.1,1181.3 638.5,1181.5A32.4,32.4 0 0 1 650.4,1184.7Q650.8,1184.7 651.2,1184.1L652.1,1182.5C652.6,1181.6 651.9,1179.4 651.3,1177.9Q650.9,1176.8 651.9,1176.5C653.6,1176.4 655.5,1177.3 656.9,1178.0C658.2,1178.8 659.8,1180.0 660.7,1181.6Q660.9,1182.6 659.8,1182.7C658.1,1183.0 655.9,1183.4 655.4,1184.3L654.4,1186.0Q654.1,1186.6 654.3,1187.0A32.4,32.4 0 0 1 663.0,1195.7Q663.4,1195.9 664.0,1195.6L665.7,1194.6C666.6,1194.1 667.0,1191.9 667.3,1190.2Q667.4,1189.1 668.4,1189.3C670.0,1190.2 671.2,1191.8 672.0,1193.1C672.7,1194.5 673.6,1196.4 673.5,1198.1Q673.2,1199.1 672.1,1198.7C670.6,1198.1 668.4,1197.4 667.5,1197.9L665.9,1198.8Q665.3,1199.2 665.3,1199.6A32.4,32.4 0 0 1 668.5,1211.5Q668.7,1211.9 669.4,1211.9L671.3,1211.9C672.3,1211.9 673.8,1210.2 674.9,1208.9Q675.6,1208.1 676.3,1208.7C677.3,1210.2 677.5,1212.3 677.5,1213.8C677.5,1215.3 677.3,1217.4 676.3,1218.9Q675.6,1219.5 674.9,1218.7C673.8,1217.4 672.3,1215.7 671.3,1215.7L669.4,1215.7Q668.7,1215.7 668.5,1216.1A32.4,32.4 0 0 1 665.3,1228.0Q665.3,1228.4 665.9,1228.8L667.5,1229.7C668.4,1230.2 670.6,1229.5 672.1,1228.9Q673.2,1228.5 673.5,1229.5C673.6,1231.2 672.7,1233.1 672.0,1234.5C671.2,1235.8 670.0,1237.4 668.4,1238.3Q667.4,1238.5 667.3,1237.4C667.0,1235.7 666.6,1233.5 665.7,1233.0L664.0,1232.0Q663.4,1231.7 663.0,1231.9A32.4,32.4 0 0 1 654.3,1240.6Q654.1,1241.0 654.4,1241.6L655.4,1243.3C655.9,1244.2 658.1,1244.6 659.8,1244.9Q660.9,1245.0 660.7,1246.0C659.8,1247.6 658.2,1248.8 656.9,1249.6C655.5,1250.3 653.6,1251.2 651.9,1251.1Q650.9,1250.8 651.3,1249.7C651.9,1248.2 652.6,1246.0 652.1,1245.1L651.2,1243.5Q650.8,1242.9 650.4,1242.9A32.4,32.4 0 0 1 638.5,1246.1Q638.1,1246.3 638.1,1247.0L638.1,1248.9C638.1,1249.9 639.8,1251.4 641.1,1252.5Q641.9,1253.2 641.3,1253.9C639.8,1254.9 637.7,1255.1 636.2,1255.1C634.7,1255.1 632.6,1254.9 631.1,1253.9Q630.5,1253.2 631.3,1252.5C632.6,1251.4 634.3,1249.9 634.3,1248.9L634.3,1247.0Q634.3,1246.3 633.9,1246.1A32.4,32.4 0 0 1 622.0,1242.9Q621.6,1242.9 621.2,1243.5L620.3,1245.1C619.8,1246.0 620.5,1248.2 621.1,1249.7Q621.5,1250.8 620.5,1251.1C618.8,1251.2 616.9,1250.3 615.6,1249.6C614.2,1248.8 612.6,1247.6 611.7,1246.0Q611.5,1245.0 612.6,1244.9C614.3,1244.6 616.5,1244.2 617.0,1243.3L618.0,1241.6Q618.3,1241.0 618.1,1240.6A32.4,32.4 0 0 1 609.4,1231.9Q609.0,1231.7 608.4,1232.0L606.7,1233.0C605.8,1233.5 605.4,1235.7 605.1,1237.4Q605.0,1238.5 604.0,1238.3C602.4,1237.4 601.2,1235.8 600.4,1234.5C599.7,1233.1 598.8,1231.2 598.9,1229.5Q599.2,1228.5 600.3,1228.9C601.8,1229.5 604.0,1230.2 604.9,1229.7L606.5,1228.8Q607.1,1228.4 607.1,1228.0A32.4,32.4 0 0 1 603.9,1216.1Q603.7,1215.7 603.0,1215.7L601.1,1215.7C600.1,1215.7 598.6,1217.4 597.5,1218.7Q596.8,1219.5 596.1,1218.9C595.1,1217.4 594.9,1215.3 594.9,1213.8C594.9,1212.3 595.1,1210.2 596.1,1208.7Q596.8,1208.1 597.5,1208.9C598.6,1210.2 600.1,1211.9 601.1,1211.9L603.0,1211.9Q603.7,1211.9 603.9,1211.5A32.4,32.4 0 0 1 607.1,1199.6Q607.1,1199.2 606.5,1198.8L604.9,1197.9C604.0,1197.4 601.8,1198.1 600.3,1198.7Q599.2,1199.1 598.9,1198.1C598.8,1196.4 599.7,1194.5 600.4,1193.1C601.2,1191.8 602.4,1190.2 604.0,1189.3Q605.0,1189.1 605.1,1190.2C605.4,1191.9 605.8,1194.1 606.7,1194.6L608.4,1195.6Q609.0,1195.9 609.4,1195.7A32.4,32.4 0 0 1 618.1,1187.0Q618.3,1186.6 618.0,1186.0L617.0,1184.3C616.5,1183.4 614.3,1183.0 612.6,1182.7Q611.5,1182.6 611.7,1181.6C612.6,1180.0 614.2,1178.8 615.6,1178.0C616.9,1177.3 618.8,1176.4 620.5,1176.5Q621.5,1176.8 621.1,1177.9C620.5,1179.4 619.8,1181.6 620.3,1182.5L621.2,1184.1Q621.6,1184.7 622.0,1184.7A32.4,32.4 0 0 1 633.9,1181.5Z" fill="#231f20" stroke="#fff" stroke-width="5.4" stroke-linejoin="round" paint-order="stroke"/><g filter="url(#sh)"><path d="M858.0,383H1250.1A8.5,8.5 0 0 1 1258.6,391.5V507.5A8.5,8.5 0 0 1 1250.1,516H858.0A8.5,8.5 0 0 1 849.5,507.5V391.5A8.5,8.5 0 0 1 858.0,383Z" fill="#fff" stroke="#fff" stroke-width="3.5" stroke-linejoin="round"/><path d="M662.42,433.15L852,406.2L852,435.8L662.58,435.45Z" fill="#fff"/><path d="M858.0,383H1250.1A8.5,8.5 0 0 1 1258.6,391.5V507.5A8.5,8.5 0 0 1 1250.1,516H858.0A8.5,8.5 0 0 1 849.5,507.5V391.5A8.5,8.5 0 0 1 858.0,383ZM671,433.7L852,408L852,434Z" fill="#fdb714"/></g><g filter="url(#sh)"><path d="M996.5,545.5H1250.1A8.5,8.5 0 0 1 1258.6,554.0V711.5A8.5,8.5 0 0 1 1250.1,720H996.5A8.5,8.5 0 0 1 988,711.5V554.0A8.5,8.5 0 0 1 996.5,545.5Z" fill="#fff" stroke="#fff" stroke-width="3.5" stroke-linejoin="round"/><path d="M794.43,601.05L991,574.2L991,604.8L794.57,603.35Z" fill="#fff"/><path d="M996.5,545.5H1250.1A8.5,8.5 0 0 1 1258.6,554.0V711.5A8.5,8.5 0 0 1 1250.1,720H996.5A8.5,8.5 0 0 1 988,711.5V554.0A8.5,8.5 0 0 1 996.5,545.5ZM802,601.4L991,576L991,603Z" fill="#fdb714"/></g><g filter="url(#sh)"><path d="M22.3,571.2H417.5A8.5,8.5 0 0 1 426,579.7V856.5A8.5,8.5 0 0 1 417.5,865H22.3A8.5,8.5 0 0 1 13.8,856.5V579.7A8.5,8.5 0 0 1 22.3,571.2Z" fill="#fff" stroke="#fff" stroke-width="3.5" stroke-linejoin="round"/><path d="M415.78,505.80L390.6,574L354.4,574L413.82,504.60Z" fill="#fff"/><path d="M22.3,571.2H417.5A8.5,8.5 0 0 1 426,579.7V856.5A8.5,8.5 0 0 1 417.5,865H22.3A8.5,8.5 0 0 1 13.8,856.5V579.7A8.5,8.5 0 0 1 22.3,571.2ZM412.9,511.5L388.2,574L357,574Z" fill="#fdb714"/></g><g filter="url(#sh)"><path d="M22.0,907H484.1A8.5,8.5 0 0 1 492.6,915.5V1153.0A8.5,8.5 0 0 1 484.1,1161.5H22.0A8.5,8.5 0 0 1 13.5,1153.0V915.5A8.5,8.5 0 0 1 22.0,907Z" fill="#fff" stroke="#fff" stroke-width="3.5" stroke-linejoin="round"/><path d="M605.04,732.58L467.6,910L408.6,910L603.36,731.02Z" fill="#fff"/><path d="M22.0,907H484.1A8.5,8.5 0 0 1 492.6,915.5V1153.0A8.5,8.5 0 0 1 484.1,1161.5H22.0A8.5,8.5 0 0 1 13.5,1153.0V915.5A8.5,8.5 0 0 1 22.0,907ZM602.2,734.6L465.2,910L411.2,910Z" fill="#fdb714"/></g><path d="M1044.8,802.7Q1047.0,801.6 1047.0,797.9L1047.0,789.1C1047.0,783.6 1037.0,775.6 1030.2,770.0Q1025.5,766.3 1029.0,762.4C1037.0,757.3 1048.0,756.2 1056.0,756.2C1064.0,756.2 1075.0,757.3 1083.0,762.4Q1086.5,766.3 1081.8,770.0C1075.0,775.6 1065.0,783.6 1065.0,789.1L1065.0,797.9Q1065.0,801.6 1067.2,802.7A173.0,173.0 0 0 1 1132.6,820.3Q1135.1,820.4 1137.0,817.2L1141.4,809.5C1144.1,804.8 1139.5,792.9 1136.4,784.6Q1134.2,779.1 1139.1,777.4C1148.6,777.0 1158.7,781.6 1165.6,785.6C1172.5,789.6 1181.5,796.0 1185.9,804.4Q1186.9,809.5 1181.0,810.4C1172.3,811.8 1159.7,813.8 1157.0,818.5L1152.6,826.1Q1150.7,829.3 1152.0,831.4A173.0,173.0 0 0 1 1200.0,879.4Q1202.1,880.7 1205.3,878.8L1212.9,874.4C1217.6,871.7 1219.6,859.1 1221.0,850.4Q1221.9,844.5 1227.0,845.5C1235.4,849.9 1241.8,858.9 1245.8,865.8C1249.8,872.7 1254.4,882.8 1254.0,892.3Q1252.3,897.2 1246.8,895.0C1238.5,891.9 1226.6,887.3 1221.9,890.0L1214.2,894.4Q1211.0,896.3 1211.1,898.8A173.0,173.0 0 0 1 1228.7,964.2Q1229.8,966.4 1233.5,966.4L1242.3,966.4C1247.8,966.4 1255.8,956.4 1261.4,949.6Q1265.1,944.9 1269.0,948.4C1274.1,956.4 1275.2,967.4 1275.2,975.4C1275.2,983.4 1274.1,994.4 1269.0,1002.4Q1265.1,1005.9 1261.4,1001.2C1255.8,994.4 1247.8,984.4 1242.3,984.4L1233.5,984.4Q1229.8,984.4 1228.7,986.6A173.0,173.0 0 0 1 1211.1,1052.0Q1211.0,1054.5 1214.2,1056.4L1221.9,1060.8C1226.6,1063.5 1238.5,1058.9 1246.8,1055.8Q1252.3,1053.6 1254.0,1058.5C1254.4,1068.0 1249.8,1078.1 1245.8,1085.0C1241.8,1091.9 1235.4,1100.9 1227.0,1105.3Q1221.9,1106.3 1221.0,1100.4C1219.6,1091.7 1217.6,1079.1 1212.9,1076.4L1205.3,1072.0Q1202.1,1070.1 1200.0,1071.4A173.0,173.0 0 0 1 1152.0,1119.4Q1150.7,1121.5 1152.6,1124.7L1157.0,1132.3C1159.7,1137.0 1172.3,1139.0 1181.0,1140.4Q1186.9,1141.3 1185.9,1146.4C1181.5,1154.8 1172.5,1161.2 1165.6,1165.2C1158.7,1169.2 1148.6,1173.8 1139.1,1173.4Q1134.2,1171.7 1136.4,1166.2C1139.5,1157.9 1144.1,1146.0 1141.4,1141.3L1137.0,1133.6Q1135.1,1130.4 1132.6,1130.5A173.0,173.0 0 0 1 1067.2,1148.1Q1065.0,1149.2 1065.0,1152.9L1065.0,1161.7C1065.0,1167.2 1075.0,1175.2 1081.8,1180.8Q1086.5,1184.5 1083.0,1188.4C1075.0,1193.5 1064.0,1194.6 1056.0,1194.6C1048.0,1194.6 1037.0,1193.5 1029.0,1188.4Q1025.5,1184.5 1030.2,1180.8C1037.0,1175.2 1047.0,1167.2 1047.0,1161.7L1047.0,1152.9Q1047.0,1149.2 1044.8,1148.1A173.0,173.0 0 0 1 979.4,1130.5Q976.9,1130.4 975.0,1133.6L970.6,1141.3C967.9,1146.0 972.5,1157.9 975.6,1166.2Q977.8,1171.7 972.9,1173.4C963.4,1173.8 953.3,1169.2 946.4,1165.2C939.5,1161.2 930.5,1154.8 926.1,1146.4Q925.1,1141.3 931.0,1140.4C939.7,1139.0 952.3,1137.0 955.0,1132.3L959.4,1124.7Q961.3,1121.5 960.0,1119.4A173.0,173.0 0 0 1 912.0,1071.4Q909.9,1070.1 906.7,1072.0L899.1,1076.4C894.4,1079.1 892.4,1091.7 891.0,1100.4Q890.1,1106.3 885.0,1105.3C876.6,1100.9 870.2,1091.9 866.2,1085.0C862.2,1078.1 857.6,1068.0 858.0,1058.5Q859.7,1053.6 865.2,1055.8C873.5,1058.9 885.4,1063.5 890.1,1060.8L897.8,1056.4Q901.0,1054.5 900.9,1052.0A173.0,173.0 0 0 1 883.3,986.6Q882.2,984.4 878.5,984.4L869.7,984.4C864.2,984.4 856.2,994.4 850.6,1001.2Q846.9,1005.9 843.0,1002.4C837.9,994.4 836.8,983.4 836.8,975.4C836.8,967.4 837.9,956.4 843.0,948.4Q846.9,944.9 850.6,949.6C856.2,956.4 864.2,966.4 869.7,966.4L878.5,966.4Q882.2,966.4 883.3,964.2A173.0,173.0 0 0 1 900.9,898.8Q901.0,896.3 897.8,894.4L890.1,890.0C885.4,887.3 873.5,891.9 865.2,895.0Q859.7,897.2 858.0,892.3C857.6,882.8 862.2,872.7 866.2,865.8C870.2,858.9 876.6,849.9 885.0,845.5Q890.1,844.5 891.0,850.4C892.4,859.1 894.4,871.7 899.1,874.4L906.7,878.8Q909.9,880.7 912.0,879.4A173.0,173.0 0 0 1 960.0,831.4Q961.3,829.3 959.4,826.1L955.0,818.5C952.3,813.8 939.7,811.8 931.0,810.4Q925.1,809.5 926.1,804.4C930.5,796.0 939.5,789.6 946.4,785.6C953.3,781.6 963.4,777.0 972.9,777.4Q977.8,779.1 975.6,784.6C972.5,792.9 967.9,804.8 970.6,809.5L975.0,817.2Q976.9,820.4 979.4,820.3A173.0,173.0 0 0 1 1044.8,802.7Z" fill="#231f20" stroke="#fff" stroke-width="4.6" stroke-linejoin="round" paint-order="stroke"/><g filter="url(#sh2)"><circle cx="402.5" cy="1420" r="192" fill="#c02162" stroke="#fff" stroke-width="2"/></g><g filter="url(#sh2)"><circle cx="108.4" cy="1517.5" r="96" fill="#c02162" stroke="#fff" stroke-width="2"/></g><g filter="url(#sh2)"><circle cx="1065.3" cy="1412.4" r="199.2" fill="#fdb714" stroke="#fff" stroke-width="2.4"/></g><rect x="0" y="0" width="1280" height="8" fill="#231f20"/><rect x="0" y="1627.6" width="1280" height="55" fill="#fff"/><rect x="0" y="1674.2" width="1280" height="1.4" fill="#231f20"/></svg>
<div style="position:absolute;top:14.7px;font-size:60px;line-height:66px;font-weight:bold;color:#231f20;white-space:nowrap;left:-105.29999999999995px;width:1500px;text-align:center;transform-origin:50% 0;transform:scaleX(0.9183);">UN warns of Latin America “hunger pandemic”</div>
<div style="position:absolute;top:90.8px;font-size:36px;line-height:40px;font-weight:bold;color:#231f20;white-space:nowrap;left:0.7999999999999545px;width:1280px;text-align:center;transform-origin:50% 0;transform:scaleX(1.001);">The UN World Food Programme is warning that around 14 million<br>people could go hungry in Latin America and the Caribbean in 2020<br>due to the impact of the coronavirus pandemic</div>
<div style="position:absolute;top:232.0px;font-size:36px;line-height:40px;font-weight:normal;color:#231f20;white-space:nowrap;left:655.2px;transform-origin:0 0;transform:scaleX(1.005);">Countries where UN World Food<br>Programme (WFP) operates</div>
<div style="position:absolute;top:324.5px;font-size:36px;line-height:40px;font-weight:normal;color:#231f20;white-space:nowrap;left:655.2px;transform-origin:0 0;transform:scaleX(1.004);">Rising levels of coronavirus infections</div>
<div style="position:absolute;top:231.5px;font-size:36px;line-height:40px;font-weight:bold;color:#231f20;white-space:nowrap;left:205.0px;width:200px;text-align:center;transform-origin:50% 0;">U.S.</div>
<div style="position:absolute;top:404.2px;font-size:27.5px;line-height:40px;font-weight:normal;color:#231f20;white-space:nowrap;left:-12.200000000000003px;width:200px;text-align:center;transform-origin:50% 0;transform:scaleX(1.03);">1,000km</div>
<div style="position:absolute;top:449.5px;font-size:27.5px;line-height:40px;font-weight:normal;color:#231f20;white-space:nowrap;left:-12.299999999999997px;width:200px;text-align:center;transform-origin:50% 0;transform:scaleX(1.03);">625 miles</div>
<div style="position:absolute;top:506.1px;font-size:36px;line-height:40px;font-weight:bold;color:#231f20;white-space:nowrap;left:93.0px;width:300px;text-align:center;transform-origin:50% 0;">Mexico</div>
<div style="position:absolute;top:987.2px;font-size:36px;line-height:40px;font-weight:bold;color:#231f20;white-space:nowrap;left:441.6px;width:300px;text-align:center;transform-origin:50% 0;">Peru</div>
<div style="position:absolute;top:1189.7px;font-size:36px;line-height:40px;font-weight:bold;color:#231f20;white-space:nowrap;left:387.6px;width:300px;text-align:center;transform-origin:50% 0;">Chile</div>
<div style="position:absolute;top:389.0px;font-size:36px;line-height:40px;font-weight:normal;color:#231f20;white-space:nowrap;left:862.8px;transform-origin:0 0;"><b>Haiti:</b> Hunger could<br>more than double, from<br>700,000 to 1.6 million</div>
<div style="position:absolute;top:551.5px;font-size:36px;line-height:40px;font-weight:normal;color:#231f20;white-space:nowrap;left:1002.5px;transform-origin:0 0;"><b>Venezuela</b><br>One in three<br>people faced<br>hunger in 2019</div>
<div style="position:absolute;top:577.7px;font-size:36px;line-height:40px;font-weight:normal;color:#231f20;white-space:nowrap;left:27.2px;transform-origin:0 0;"><b>“Dry Corridor” of</b><br><b>Central America</b><br>Potential increase in<br>number of people with<br>severe food insecurity –<br>from over 1.6 million<br>to almost three million</div>
<div style="position:absolute;top:913.2px;font-size:36px;line-height:40px;font-weight:normal;color:#231f20;white-space:nowrap;left:27.2px;transform-origin:0 0;"><b>Colombia, Ecuador</b><br><b>and Peru:</b> Population of<br>Venezuelan migrants with<br>severe food insecurity could<br>rise from 540,000 to more<br>than one million</div>
<div style="position:absolute;top:849.2px;font-size:36px;line-height:40px;font-weight:bold;color:#fff;white-space:nowrap;left:856.8px;width:400px;text-align:center;transform-origin:50% 0;">Brazil:<br>Ranks second<br>in number of<br>coronavirus<br>infections,<br>behind U.S.</div>
<div style="position:absolute;top:1202.0px;font-size:36px;line-height:40px;font-weight:bold;color:#231f20;white-space:nowrap;left:13.8px;transform-origin:0 0;">Total number<br>of people in<br>severe food<br>insecurity</div>
<div style="position:absolute;top:1280.9px;font-size:56px;line-height:60px;font-weight:bold;color:#fff;white-space:nowrap;left:204.39999999999998px;width:400px;text-align:center;transform-origin:50% 0;">13.7m</div>
<div style="position:absolute;top:1348.0px;font-size:36px;line-height:40px;font-weight:bold;color:#fff;white-space:nowrap;left:203.5px;width:400px;text-align:center;transform-origin:50% 0;">2020 estimate<br>based on figures<br>for countries<br>where WFP<br>operates</div>
<div style="position:absolute;top:1459.0px;font-size:36px;line-height:40px;font-weight:bold;color:#fff;white-space:nowrap;left:7.5px;width:200px;text-align:center;transform-origin:50% 0;">2019</div>
<div style="position:absolute;top:1500.1px;font-size:56px;line-height:60px;font-weight:bold;color:#fff;white-space:nowrap;left:6.599999999999994px;width:200px;text-align:center;transform-origin:50% 0;">3.4m</div>
<div style="position:absolute;top:1253.4px;font-size:56px;line-height:60px;font-weight:bold;color:#231f20;white-space:nowrap;left:865.0px;width:400px;text-align:center;transform-origin:50% 0;">5.3%</div>
<div style="position:absolute;top:1321.1px;font-size:36px;line-height:40px;font-weight:normal;color:#231f20;white-space:nowrap;left:865.0px;width:400px;text-align:center;transform-origin:50% 0;">Projected fall in<br>Latin America’s GDP<br>in 2020 – possible<br>sharper drop than<br>during Great<br>Depression</div>
<div style="position:absolute;top:1636.8px;font-size:24.4px;line-height:30px;font-weight:normal;color:#231f20;white-space:nowrap;left:7px;transform-origin:0 0;transform:scaleX(1.074);">Sources: Associated Press, UN World Food Programme</div>
<div style="position:absolute;top:1636.8px;font-size:24.4px;line-height:30px;font-weight:normal;color:#231f20;white-space:nowrap;left:871.2px;width:400px;text-align:right;transform-origin:100% 0;transform:scaleX(1.07);">© GRAPHIC NEWS</div>

</body></html>
